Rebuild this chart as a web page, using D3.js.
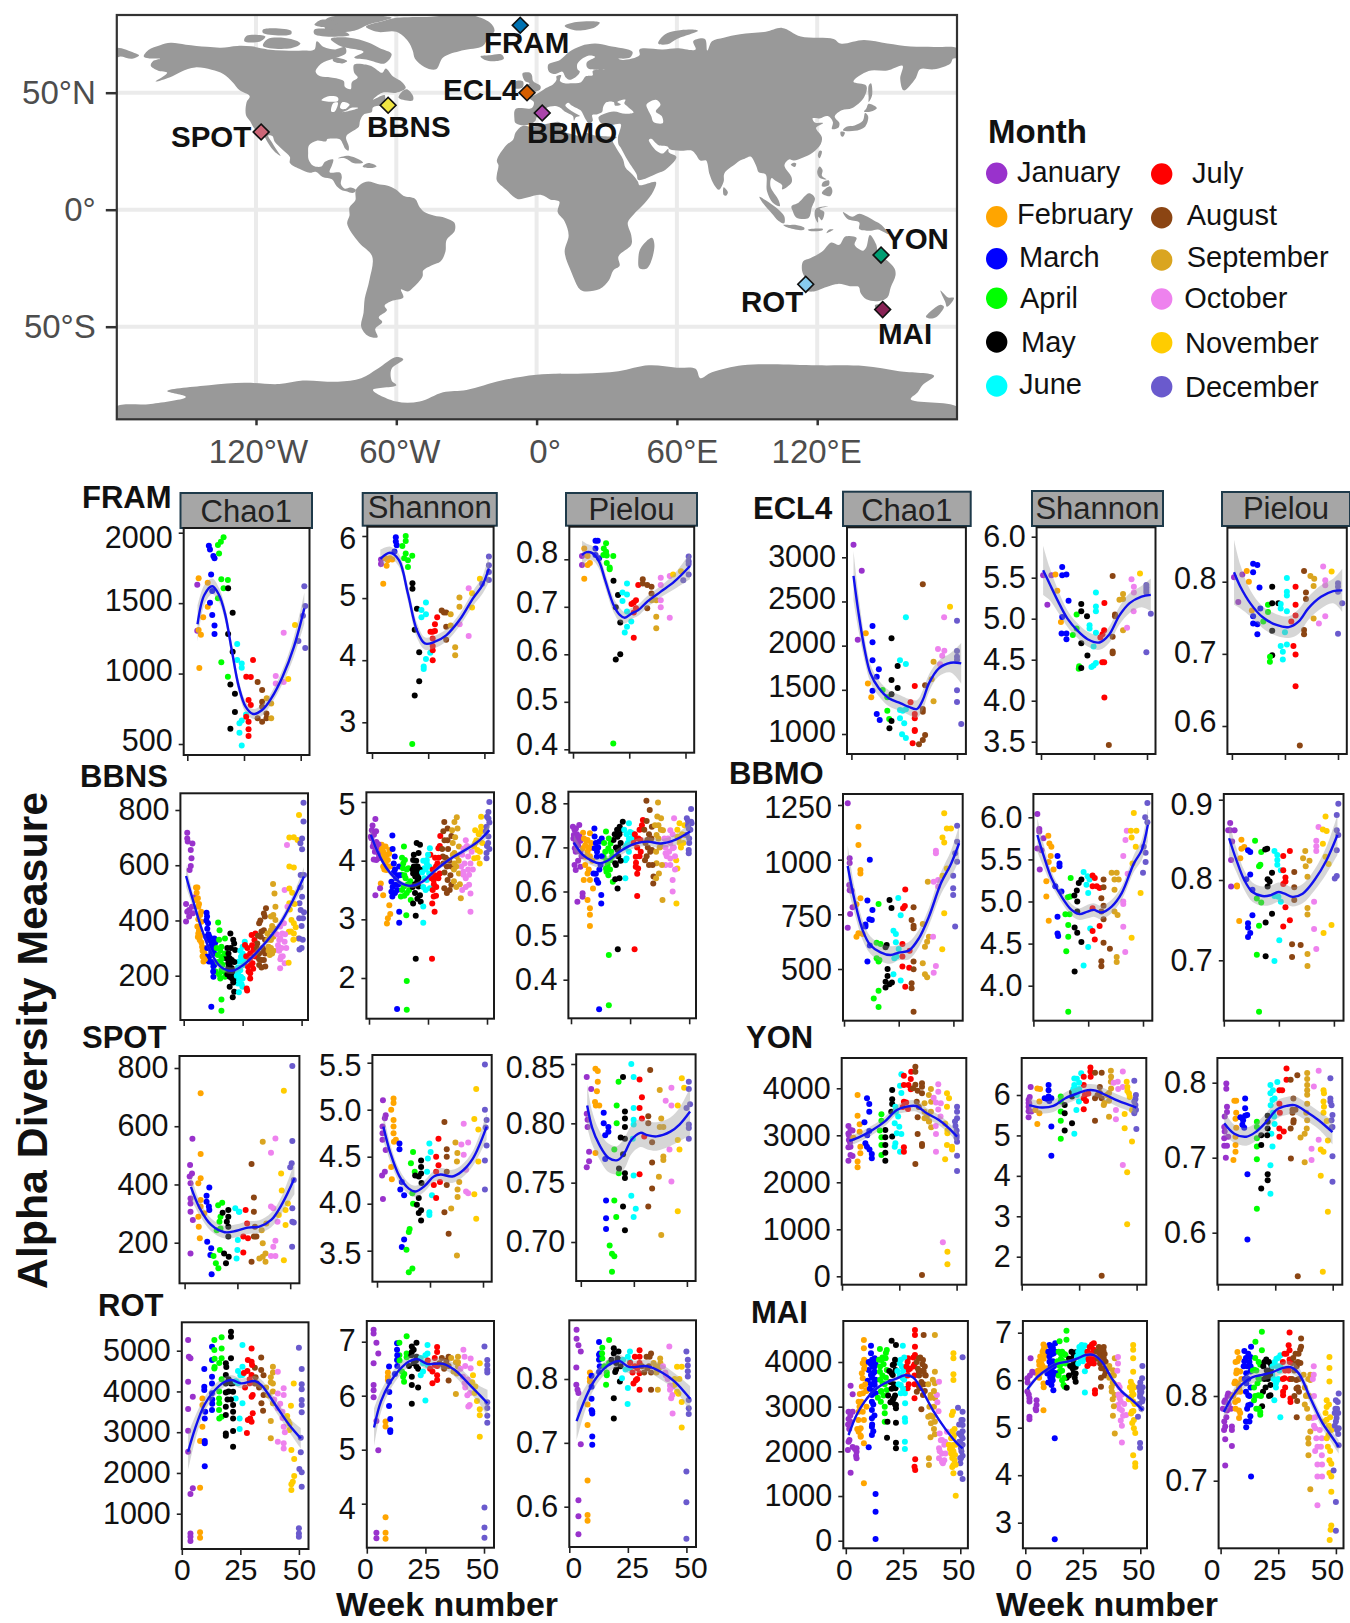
<!DOCTYPE html>
<html>
<head>
<meta charset="utf-8">
<script src="https://cdn.jsdelivr.net/npm/d3@7"></script>
<style>
  body { margin: 0; background: #fff; }
  text { font-family: "Liberation Sans", Arial, sans-serif; }
</style>
</head>
<body>
<svg id="chart" width="1350" height="1623"></svg>
<script>
// months
const months = ["January","February","March","April","May","June","July","August","September","October","November","December"];
const monthColors = ["#9932CC","#FFA500","#0000FF","#00FF00","#000000","#00FFFF","#FF0000","#8B4513","#DAA520","#EE82EE","#FFCC00","#6A5ACD"];
const monthEdges = [5,9.5,13.5,18,22,26,30.5,35,39,44.5,49];

// sampling sites on the map: name, lon, lat, colour
const sites = [
  ["FRAM",-7,78.8,"#0072B2"],["ECL4",-4.1,50,"#D55E00"],["BBMO",2.4,41.3,"#AA44AA"],["BBNS",-63.5,44.6,"#F0E442"],
  ["SPOT",-117.8,33.2,"#CC6677"],["YON",147.3,-19.4,"#009E73"],["ROT",115.1,-31.9,"#88CCEE"],["MAI",148,-42.7,"#882255"]
];
const lonTicks = [-120,-60,0,60,120];
const lonLabels = ["120°W","60°W","0°","60°E","120°E"];
const latTicks = [50,0,-50];
const latLabels = ["50°N","0°","50°S"];

// land outlines [lon,lat]
const land = [
 [[-168,65.5],[-166,68.3],[-161,70.3],[-156.5,71.3],[-150,70.5],[-141,69.6],[-135,69.2],[-128,70],[-122,69.8],[-115,68.5],[-108,68],[-100,68],[-95,68.5],[-94,72],[-91,69.5],[-86,68.5],[-82,69.5],[-81.5,67],[-87,64.5],[-92,62.5],[-94.5,59],[-92.5,57],[-88,56.5],[-82.5,55],[-82,52.5],[-79.5,51.5],[-79,54.5],[-76.5,56.5],[-78,58.5],[-78,62],[-73,62],[-70,61],[-66,58.5],[-64.5,60.3],[-61.5,57],[-57.5,54.5],[-56,52],[-60,50],[-66,50],[-70,47],[-65,49],[-64.5,47],[-61,46],[-64,44.5],[-66.5,44.5],[-70,43.7],[-70.5,41.7],[-74,40.6],[-75.5,38],[-76,35.5],[-78,34],[-81,32],[-81.5,30.5],[-80.3,27],[-80.5,25.2],[-81.8,26],[-82.8,28],[-84,30],[-86,30.4],[-89.5,30.2],[-90,29.2],[-94,29.5],[-97.3,27.5],[-97.7,24],[-97.5,21.5],[-95.5,18.8],[-92,18.5],[-90.5,20.5],[-87,21.5],[-87.5,19],[-88.5,16],[-84,15.8],[-83.3,14],[-83.7,11],[-82,9],[-79.7,9.5],[-77.3,8.5],[-78,7.3],[-80,7.3],[-81,7.8],[-83,8.2],[-85.5,10],[-87.5,13],[-91.5,14],[-94.5,16.2],[-97,15.8],[-101.5,17.5],[-105.5,20],[-105.5,22.5],[-108.5,25.5],[-112,29],[-113,31.5],[-114.8,31.7],[-113,28.5],[-110.5,24.5],[-109.5,23],[-112,24.8],[-114.5,28],[-116,30.5],[-117.2,32.7],[-120.5,34.5],[-122.5,37.8],[-124.3,40.5],[-124,46],[-122.7,48.5],[-127,51],[-130,54.5],[-134,58],[-139,59.8],[-146,60.8],[-152,59],[-157,56.5],[-163,54.8],[-158,58.5],[-162,59.5],[-165,61.5],[-164,63.5],[-161,64.5],[-166,64.7]],
 [[-80,73.5],[-72,71.5],[-67,69],[-62,66.5],[-65,62.5],[-72,64],[-78,65],[-74,67.5],[-84,70],[-88,73]],
 [[-117,70],[-105,69],[-101,71],[-105,73],[-115,73]],
 [[-125,72],[-118,72],[-116,74],[-124,74.3]],
 [[-90,76.5],[-78,76.5],[-72,79],[-62,82],[-72,83],[-90,81.5]],
 [[-95,75],[-80,74.5],[-82,76],[-95,77]],
 [[-117,75.5],[-105,75],[-105,76.5],[-117,77]],
 [[-95,79],[-88,78],[-85,80],[-92,81.2]],
 [[-87,65],[-81,63.5],[-83,62.5],[-87,63.5]],
 [[-59,47.8],[-53,46.7],[-52.8,48.5],[-55.5,51.5],[-57.5,50.5]],
 [[-85,22],[-80,23],[-74.2,20.2],[-78,19.8],[-82,22]],
 [[-74.4,18.5],[-72,20],[-68.4,18.6],[-71,17.8]],
 [[-73,78.2],[-68,76],[-60,76],[-55,72],[-53,68],[-52,64.5],[-48,61],[-43,60],[-40,65],[-32,68],[-23,70],[-21,73],[-18,76.5],[-20,80],[-30,83.5],[-45,82.5],[-60,82],[-66,80.5]],
 [[-24,65.5],[-22,64],[-18.5,63.4],[-14,64.5],[-15,66.3],[-20,66]],
 [[12,78.5],[17,76.6],[25,78],[27,80],[17,80.2]],
 [[52,71],[56,70.7],[60,73],[69,76.5],[65,77],[55,75]],
 [[-5.5,50.1],[1.3,51.2],[1.7,52.8],[-1.5,55],[-2,57.5],[-3,58.6],[-6,58.3],[-5,55],[-3,54],[-4.5,53],[-5,51.7]],
 [[-10,52],[-6,52.2],[-5.8,54.8],[-8,55.2],[-10,54]],
 [[-77.3,8.5],[-75.5,10.7],[-72,12],[-68,11],[-64,10.3],[-60,8.5],[-57,6],[-52,4.7],[-50,1],[-48,-1],[-44,-2.5],[-39,-3.5],[-35.2,-5.5],[-35,-9],[-38.5,-13],[-39,-18],[-41,-22],[-45,-23.8],[-48.5,-26],[-48.8,-28.5],[-53,-33.5],[-55,-35],[-58,-34],[-57,-37.5],[-62,-39],[-65,-41],[-64,-43],[-67.5,-46],[-66,-48],[-69,-51],[-68,-54.5],[-72,-54],[-75,-50],[-74,-44],[-73.5,-38],[-71.5,-30],[-70.3,-20],[-76,-14],[-81,-6],[-80,-2.5],[-80,1],[-77.5,4],[-77.5,7]],
 [[-6,35.8],[-1,35.3],[5,36.8],[10,37.3],[11,34],[15,32.3],[20,31.5],[20.5,32.8],[25,31.7],[32,31.2],[34.3,31],[32.6,29.5],[34,26.5],[37,21.5],[38,18],[41,15],[43.3,12],[44,10.5],[51,11.8],[50,8],[46,2.5],[41.5,-2],[39,-5.5],[40.5,-11],[40.5,-15],[35,-20],[35.5,-24],[32.8,-26],[31,-30],[27,-33.9],[20,-34.8],[18.3,-33.8],[15,-27],[12,-18],[13.7,-11],[12,-5],[9,-1],[9.7,3.5],[6,4.3],[2,6.3],[-4,5.2],[-8,4.5],[-13,8.5],[-17,12.5],[-17,15],[-16.3,19],[-17,21],[-13,27.5],[-10,30],[-9,33]],
 [[49.3,-12],[50.4,-15.5],[47.3,-25],[44,-25],[43.5,-21],[44.5,-16.5]],
 [[-9,37],[-9.5,39],[-9,43],[-2,43.5],[-1.2,46],[-4.5,48.4],[-1.5,48.7],[1.5,50.3],[4,52],[7,53.5],[8.5,55.5],[8.5,57],[10.5,57.5],[10,55],[12,54],[14.5,54],[19,54.5],[21,57],[24,57.5],[24,59.3],[29.5,60],[23,60],[21.5,61],[21.5,63],[25,65.3],[22,65.8],[17.5,62.5],[17.5,60],[18.5,59],[16.5,56.5],[14,55.5],[12.5,56.5],[11,59],[8,58],[5.3,59],[5,62],[10,64],[14,67.5],[19,70],[25,71],[31,70],[41,67.5],[40,65],[35,64.5],[37,64],[44,66],[44,68.5],[54,68.5],[60,69],[68,68.5],[67,72],[72,73],[73,68],[75,72],[80,73.5],[87,75],[98,76],[105,77.7],[113,74],[127,73],[130,71],[140,72.5],[150,71],[160,69.7],[170,69.5],[180,68.9],[180,65],[178,64.5],[177,62.5],[170,60],[164,60],[162,56],[157,51],[155.5,56],[156.5,61.5],[150,59.5],[142,59.3],[135.5,54.7],[141,53],[140,48],[135,43.5],[130.5,42.5],[127.5,39.8],[129.5,37],[129,35],[126.3,34.5],[126.7,37.5],[124.5,40],[121,39],[118,39],[119,37.3],[122.5,37],[119.5,35],[122,31],[121.5,28],[118,24.3],[114,22.3],[110,21],[108,21.5],[106,19],[109,14],[109,11.5],[105,8.7],[105,10.5],[102,12.5],[100.5,13.5],[100,10],[103.5,4],[104,1.5],[101,3],[98.5,8],[98,15],[95,16],[94,18.5],[91.5,22.7],[89,21.8],[87,21],[85,19.5],[80.3,15.5],[80,12],[78,8.5],[76,10.5],[74,15],[73,20],[72.5,21],[70,21],[68,23.7],[66.5,25.2],[61.5,25.2],[57,25.8],[56,27],[52,27.7],[49,30.3],[48,29.8],[50,26.5],[51.5,25],[54,24],[56.3,26],[56.5,24.5],[59.8,22.5],[55,17],[52,15.7],[45,12.8],[43.3,12.8],[42.8,15],[39,21],[36,26.5],[35,28],[34.8,31],[35.5,33.5],[36,36.5],[32,36.2],[30.5,36.5],[27.5,37],[26.5,39.5],[29,41],[33,42],[38,41],[41.5,41.5],[39,44],[37.5,45.5],[38,47],[34.5,46],[36,45],[33.5,44.5],[33,46],[30,46],[28.5,44],[28,41.7],[26,40.8],[23.8,40.5],[24,38],[22.5,36.7],[21,38.5],[19.5,41.5],[19,42.3],[15,44.5],[13.5,45.7],[12.3,44.5],[16,41.5],[18.5,40],[16.8,39.5],[16,38],[15.5,40],[12,42],[10.3,43.5],[8,44.3],[4,43.4],[3,42],[0,39.5],[-0.5,38],[-2,36.8],[-5.5,36]],
 [[-180,65],[-180,69],[-172,67],[-170,66],[-173,64.5],[-178,65.5]],
 [[131,34],[136,33.7],[140.5,35.5],[141.8,39.8],[140.5,41.3],[139.5,38],[136,36],[132.5,35.5]],
 [[140,42],[143,42],[145.5,43.5],[142,45.3],[141,43.3]],
 [[130,33.3],[131.8,33],[131,31.2],[130.2,31.5]],
 [[142,46],[143.5,49],[143,54],[142,53],[142,48]],
 [[120.3,23],[121,22],[122,25],[121,25.2]],
 [[108.7,19.2],[110.5,18.3],[111,19.8],[110,20.1]],
 [[120,16],[121,18.5],[122.3,17],[122,14.5],[124,13],[121,13.7]],
 [[122,7],[125.5,5.8],[126.5,8],[125.5,10],[123,8.5]],
 [[122,10],[125,10.5],[125,12.5],[122.5,11.8]],
 [[95.3,5.5],[98,4],[103.5,0],[106,-3],[105.8,-5.8],[103.5,-4.8],[100.5,-1.5],[97,2.5]],
 [[105.5,-6.5],[108.5,-6.5],[111,-6.5],[114.5,-7.7],[114.3,-8.6],[108,-7.8]],
 [[109,1.5],[112,3],[116.5,7],[119,5],[117.7,1],[116.3,-3.5],[111,-3.3],[109.5,-0.5]],
 [[119.5,0.5],[125,1.5],[121,0.4],[123,-1],[122,-4.5],[120.5,-3],[120.3,-5.5],[119,-3]],
 [[131,-1],[135,-3],[138,-1.7],[145,-5],[147.5,-6.5],[150.5,-10.5],[146,-8.5],[143,-9],[138,-8.3],[138,-5.5],[133,-4]],
 [[124,-10],[127,-8.5],[125,-8.6]],
 [[116,-8.5],[122.5,-8.2],[122,-8.9],[116.5,-9]],
 [[80,9.6],[81.8,7.5],[81,6],[80,6.3]],
 [[114,-22],[113.5,-26],[115,-30],[115,-34.3],[118,-35],[124,-33],[129,-31.7],[134,-32.7],[137.8,-33],[138.5,-35.5],[141,-38.3],[146.5,-39],[150,-37.5],[151.5,-33],[153.5,-28],[153,-25],[149,-21],[146,-19],[145.3,-15],[142.5,-10.8],[141,-16],[139.5,-17.5],[136,-15],[136.8,-12],[132,-11.5],[129.5,-15],[126,-14],[122,-18],[117,-20.7]],
 [[144.7,-40.8],[148.3,-40.8],[147.8,-43.3],[146,-43.5]],
 [[172.7,-34.5],[176,-37.5],[178.5,-37.7],[175.5,-41.5],[174.8,-39.5]],
 [[172.7,-40.6],[174.2,-41.5],[170.8,-46],[168,-46.5],[166.5,-45.8]],
 [[-180,-90],[-180,-84.4],[-165,-83],[-150,-80],[-158,-77.5],[-140,-75],[-125,-74],[-110,-74.5],[-100,-73],[-85,-73.5],[-75,-72],[-68,-68],[-60,-63],[-57,-64],[-62,-68],[-62,-73],[-60,-75],[-70,-77],[-60,-82],[-50,-82],[-40,-78],[-30,-77],[-15,-73],[0,-70.5],[20,-70],[35,-69],[48,-66.5],[60,-67.5],[68,-68],[70,-72],[75,-69.5],[88,-66.5],[100,-66],[120,-66.5],[140,-66.8],[155,-69],[170,-71],[165,-75],[163,-78],[160,-81],[180,-84.4],[180,-90]]
];
// inland water painted over the land
const water = [
 [[47,45],[51,47],[53,45],[51,42],[53.5,40],[54,37],[50,37.5],[49,40],[47.5,43]],
 [[-92,46.8],[-85,46.5],[-85,48],[-89,48.5]],
 [[-87.8,42],[-86.3,42],[-85,45.8],[-87,45.5]],
 [[-84,43.5],[-82,43],[-80,45],[-83,46]],
 [[-83,41.7],[-79,42.5],[-76.3,43.5],[-79.5,43.5],[-81,42.5]]
];

// points are [week, value]; fits are [week, value, half width of the band]
const framChao1 = [[4.4,1630],[4.4,1304],[5,1676],[9,1645],[5,1310],[6,1275],[7,1400],[9,1475],[5.3,1040],[9.5,1908],[10,1880],[11.5,1835],[12,1818],[10.5,1704],[10,1503],[11,1415],[12,1342],[12,1280],[11,1586],[13.5,1912],[14.8,1936],[16,1967],[14,1853],[15,1669],[17.9,1664],[16,1605],[13.5,1534],[15,1080],[17.9,978],[18,1605],[20,1432],[18,1280],[20,1155],[19,923],[21,857],[21,727],[19,609],[22,1210],[22,1096],[24,1072],[24,1042],[25.9,710],[24,666],[23,647],[23,580],[24,490],[26,694],[29,1096],[26,978],[28,975],[27,812],[28,777],[27,658],[27,604],[27,557],[31,940],[33,883],[33,800],[33,765],[31,682],[33,658],[34.9,682],[34.9,717],[35,824],[37,788],[37,682],[39,982],[39,930],[42.5,1290],[42.5,940],[47.5,1345],[44.5,961],[51.6,1620],[52,1480],[51,1411],[52,1181],[49,1231]];
const framChao1Fit = [[4.5,1350,130],[7.5,1558,70],[11,1620,55],[14,1558,50],[16.6,1427,50],[19.6,1167,50],[22.7,907,45],[25.7,765,40],[29,713,35],[33,741,40],[37,824,40],[42,978,50],[47,1190,70],[51.6,1463,110]];
const framShannon = [[4,5.62],[4,5.55],[5,5.23],[6,5.64],[7,5.61],[8,5.64],[9,5.62],[6.5,5.52],[10.6,5.98],[10.6,5.91],[11,5.85],[10,5.75],[15,6],[15,5.92],[13.5,5.84],[15,5.72],[17.9,5.68],[14.3,5.64],[16,5.61],[16,5.5],[17.9,2.65],[18,5.24],[18,5.15],[20,4.83],[19,4.49],[21,4.13],[21,3.66],[19,3.43],[24,4.93],[22,4.81],[24,4.74],[22,4.69],[25.9,4.12],[24,4.02],[23,3.9],[23,3.86],[29,4.69],[28,4.58],[26,4.46],[27,4.46],[28,4.47],[27,4.35],[27,4.23],[27,4.16],[27,4],[31,4.8],[32,4.77],[33,4.77],[33,4.54],[33,4.33],[35,4.74],[35,4.56],[38.9,5.01],[38.9,4.86],[37,4.21],[37,4.08],[43,5.16],[43,4.39],[39,4.58],[44.5,5.08],[44.5,4.85],[48,5.31],[49,5.23],[52,5.67],[52,5.53],[52,5.42],[52,5.29]];
const framShannonFit = [[3.7,5.63,.15],[8,5.73,.1],[12,5.61,.1],[16,5.07,.12],[20,4.48,.12],[23.5,4.27,.1],[27.5,4.29,.1],[33,4.4,.1],[39,4.65,.1],[45,5,.12],[49,5.2,.14],[52,5.48,.22]];
const framPielou = [[4,.807],[4,.788],[5,.759],[5,.823],[6.5,.807],[6.5,.788],[7.5,.792],[10,.839],[11,.839],[10,.823],[10,.809],[11.6,.802],[14.7,.834],[13.7,.823],[14.7,.816],[13.5,.809],[15,.808],[17.9,.807],[15,.792],[16.3,.783],[16.3,.779],[17.9,.412],[18,.755],[20,.725],[19,.699],[21,.667],[21,.6],[19,.589],[24,.749],[22,.73],[24,.726],[22,.712],[24,.69],[25.9,.669],[24,.658],[23,.646],[29,.746],[28,.714],[26,.706],[27,.709],[28,.697],[27,.688],[27,.635],[31,.758],[33,.746],[31,.749],[34.9,.742],[34.9,.728],[33,.697],[39,.761],[39,.746],[35,.714],[37,.714],[37,.679],[37,.655],[43,.765],[39,.714],[39,.699],[43,.677],[44.5,.768],[48,.775],[49,.756],[51.4,.806],[51.4,.796],[51.4,.79],[51.4,.768]];
const framPielouFit = [[4,.809,.03],[6,.815,.018],[8.6,.813,.015],[11.6,.795,.015],[14.3,.756,.015],[18,.704,.015],[20.8,.683,.015],[23,.677,.012],[26,.686,.012],[29,.693,.012],[33,.711,.012],[39,.732,.012],[45,.753,.016],[52,.786,.028]];

const ecl4Chao1 = [[1,3143],[4.9,2849],[3,2068],[7.8,1573],[9.4,1415],[6.8,2140],[10,2223],[10,2038],[10,1834],[10,1490],[12,1226],[13.4,1158],[13,1732],[12,1649],[14.8,1498],[17,1264],[17,1415],[17.9,1170],[19,2083],[19,1611],[19,1449],[21.9,1770],[21.9,1521],[19,1147],[18,1064],[25.8,2321],[23,1834],[25.8,1792],[23,1272],[24.3,1264],[25.8,1279],[23,1177],[25,1121],[24,996],[25.8,955],[30,1543],[28,1358],[30,1226],[30,1177],[30,1045],[30,1034],[29,894],[33.8,2694],[34.9,1551],[33.8,1283],[33.8,1253],[34.9,988],[33.8,932],[32,883],[38.9,1370],[38.9,1819],[38,1619],[41,1962],[44,1943],[43,1887],[42,1789],[43.9,2321],[46.7,2441],[50,2283],[50,1940],[50,1875],[50,1838],[50,1494],[50,1362],[52,1113]];
const ecl4Chao1Fit = [[1,2790,280],[3.4,2366,200],[6.3,1951,130],[9,1687,100],[13,1517,90],[17.7,1404,90],[23.4,1347,90],[27,1309,90],[31,1283,100],[33.8,1385,110],[36.7,1573,100],[41.4,1743,90],[47,1807,110],[52,1800,230]];
const ecl4Shannon = [[1,5.53],[4.9,5.53],[3,5.17],[6.8,5.54],[7.7,5.34],[9.4,4.96],[10,5.63],[10,5.53],[12,5.54],[13,5.22],[10,5.02],[9.7,4.82],[12,4.82],[12,4.75],[16.8,5.05],[15,4.8],[16.8,4.88],[17.8,4.39],[19,5.18],[19,5.09],[21.7,5.03],[19,4.7],[21.9,4.55],[17.99,4.42],[19,4.4],[25.9,5.32],[25.9,5.15],[25.9,5.09],[22.9,4.92],[22.9,4.88],[25.9,4.83],[24.8,4.66],[25.9,4.46],[24.8,4.43],[23.8,4.41],[29.9,5.19],[29.8,4.86],[29,4.81],[28,4.77],[28.9,4.47],[29.8,4.47],[29.9,4.04],[33.8,5.52],[34.9,5.05],[34.9,5.03],[33.8,4.78],[33.8,4.6],[33.8,4.58],[32,3.46],[37,5.23],[38.7,5.3],[38.7,5.24],[38.7,4.86],[42.7,5.48],[43.8,5.39],[43.8,5.32],[40.6,4.89],[43.7,5.09],[46.7,5.55],[49.7,5.41],[49.7,5.38],[49.7,5.35],[49.7,5.32],[49.7,4.59],[51.8,5.06]];
const ecl4ShannonFit = [[1,5.59,.3],[4,5.43,.2],[7.7,5.23,.14],[12.5,5,.1],[17,4.86,.09],[22,4.75,.09],[27.6,4.71,.09],[32,4.8,.1],[37,5.04,.11],[41.8,5.19,.12],[47.4,5.27,.13],[51.8,5.29,.2]];
const ecl4Pielou = [[1,.806],[4.9,.81],[3,.772],[7,.815],[8,.8],[9.4,.76],[10,.825],[12,.823],[10,.813],[13,.792],[10,.752],[10,.742],[12,.741],[12,.727],[13.4,.763],[14.8,.745],[17,.768],[17,.758],[17.9,.689],[19,.793],[19,.77],[21.9,.77],[19,.732],[23,.711],[19,.698],[17.95,.696],[25.9,.805],[25.9,.786],[25.9,.781],[23,.769],[23,.763],[25.9,.759],[25,.73],[25.9,.713],[24,.703],[24,.692],[30,.793],[30,.768],[30,.753],[28,.745],[29,.711],[30,.699],[30,.655],[34,.815],[34.9,.785],[34.9,.776],[34,.733],[34,.727],[32,.573],[37,.808],[38.8,.804],[38.5,.794],[38.5,.749],[43,.821],[44,.802],[44,.795],[44,.752],[41,.742],[47,.814],[50,.798],[50,.793],[50,.786],[52,.77],[50,.728]];
const ecl4PielouFit = [[1,.813,.045],[4,.793,.03],[8.7,.77,.018],[14.4,.751,.015],[21,.74,.015],[26.8,.737,.015],[31.5,.745,.017],[36,.763,.016],[42,.779,.016],[47.7,.787,.017],[52,.788,.03]];

const bbnsChao1 = [[1,460],[1.5,432],[1.5,718],[1.5,697],[1.7,686],[3.7,679],[3,655],[3.3,625],[3,597],[2.5,583],[1,396],[2.3,414],[2.3,438],[3.9,426],[3.5,450],[4.7,484],[5.2,519],[5.8,519],[5,474],[6.2,450],[7.4,432],[5.8,378],[6.2,353],[6.8,329],[7.8,305],[8.8,281],[8.4,251],[8.2,269],[6.2,404],[9.7,428],[9.9,414],[10.3,390],[9.5,341],[10.7,329],[11.7,311],[13,335],[13.4,320],[11.7,287],[9.7,269],[10.7,251],[12.6,233],[12.6,196],[11.7,88],[13,305],[14.6,393],[15.2,365],[17.5,335],[16,305],[16.5,269],[15.2,245],[16,221],[13.5,215],[17.5,196],[16,114],[16,73],[19.8,353],[21.4,317],[21.8,293],[18,263],[19.5,263],[18.9,245],[20.4,257],[18,218],[19.5,196],[21,209],[19.5,160],[21.4,142],[20.8,122],[21.8,184],[20.4,227],[25.9,323],[25,305],[24.3,269],[23.4,251],[23,209],[25.3,239],[23,172],[24.3,196],[23.4,140],[24.9,160],[26,311],[28.8,347],[30.4,353],[28.2,281],[29.6,293],[27.2,233],[29.2,245],[28.2,209],[28.2,190],[26.7,154],[26.9,146],[30,329],[34.9,444],[34.4,414],[32,390],[34,365],[32.7,341],[35.5,353],[31.2,317],[33,257],[31,269],[34.6,233],[32,239],[34,257],[37.9,532],[38.5,498],[38.9,450],[37,414],[38.9,402],[37,365],[38,341],[35,287],[36,305],[37,329],[42.8,510],[43.8,673],[40.9,378],[41.8,353],[42.8,323],[39.9,293],[41.3,269],[40.9,227],[42.8,245],[40.5,329],[48.9,782],[44.8,700],[46.7,701],[48.3,691],[46.7,592],[44.8,595],[44.8,516],[44.8,462],[45.7,402],[44.6,359],[46.7,353],[48.6,335],[44.5,247],[46.7,390],[50.8,826],[50.8,758],[50.2,697],[50.2,658],[51,565],[49.6,565],[50.2,486],[49.1,462],[49.6,438],[50.6,408],[49,408],[49.1,295],[49,335]];
const bbnsChao1More = [[5.5,500],[6,480],[6.5,460],[7,420],[6,340],[6.5,365],[7,345],[7.5,320],[8,290],[8.5,300],[9,260],[7.5,395],[8,270],[9.6,400],[10,370],[10.5,350],[11,340],[11.5,300],[12,320],[12.5,290],[13,280],[10,300],[11,270],[12,250],[12.5,215],[13,240],[14,300],[14.5,275],[15,330],[15.5,290],[16,260],[16.5,240],[17,215],[17.5,280],[14.5,250],[15,205],[15.5,190],[18.5,300],[19,280],[19.5,240],[20,215],[20.5,190],[21,175],[21.5,250],[19,230],[20,300],[21,330],[18.5,205],[22.5,200],[23,230],[23.5,185],[24,220],[24.5,170],[25,280],[25.5,255],[25,190],[24,290],[26.5,270],[27,300],[27.5,215],[28,260],[28.5,240],[29,310],[29.5,225],[30,270],[31,300],[31.5,345],[32,280],[32.5,400],[33,360],[33.5,300],[34,425],[34.5,330],[32,260],[33,230],[34,290],[34.5,280],[35.5,330],[36,290],[36.5,340],[37,300],[37.5,380],[38,290],[38.5,370],[37.5,280],[36.5,275],[38,420],[39.5,350],[40,310],[40.5,290],[41,335],[41.5,300],[42,270],[42.5,390],[43,350],[43.5,300],[44,450],[41,260],[45,440],[45.5,360],[46,500],[46.5,330],[47,460],[47.5,375],[49.5,520],[50,380],[50.5,330],[51,430],[50,300],[49.5,680]];
const bbnsChao1Fit = [[1,561,40],[3.9,474,25],[7.8,365,15],[11.7,281,12],[15.6,233,12],[20.4,218,12],[24.3,233,12],[29.2,269,12],[35,323,12],[41,390,15],[46.7,480,20],[51,559,35]];
const bbnsShannon = [[2.7,4.71],[1.2,4.52],[2.1,4.44],[3.1,4.32],[1.6,4.24],[4.1,4.12],[3.1,4.01],[5,3.61],[4.7,3.53],[2.7,3.41],[6,3.41],[.8,4.41],[4.1,4.04],[5.4,4.27],[7,4.24],[8.6,4.18],[6,4.07],[8,4.01],[6,3.9],[7.4,3.84],[9,3.9],[8.6,3.24],[9,3.09],[7.6,2.93],[8,3.02],[9.9,4.43],[10.9,4.07],[10.5,3.95],[12.8,3.9],[9.5,3.64],[11.3,3.59],[9.5,3.47],[9.9,3.39],[12.8,3.13],[12.8,2.94],[11.9,1.47],[14.8,4.24],[15.2,4.01],[14.4,3.87],[16.7,3.87],[13.8,3.76],[14.8,3.56],[13.5,3.39],[15.8,3.07],[16,1.95],[16,1.46],[17.7,3.33],[20.2,4.3],[21.6,4.27],[21,4.13],[18.7,4.01],[20.6,3.9],[18.7,3.78],[19.6,3.73],[21,3.56],[21.6,3.41],[18.7,3.27],[21.9,3.3],[19.8,3.06],[19.8,2.33],[25.8,4.21],[24.5,4.01],[23.5,3.87],[25.5,3.78],[24.5,3.67],[23,3.22],[23,2.94],[25.8,3.53],[30.2,4.42],[29.4,4.21],[26,4.1],[28.4,3.9],[30,3.78],[27.4,3.67],[29.4,3.7],[27.4,3.39],[28.4,3.4],[26.8,3.27],[27.8,3.13],[26.7,2.33],[31.9,4.66],[33.3,4.55],[34.9,4.42],[33.3,4.35],[31.3,4.07],[33.3,4.01],[34.9,3.9],[34.9,3.59],[33.3,3.67],[31.9,3.53],[34.2,3.5],[37.2,4.74],[36.2,4.66],[35.2,4.52],[38.1,4.24],[37.2,4.07],[36.2,3.95],[38.1,3.78],[38.9,3.36],[36.2,4.13],[41,4.35],[40.5,4.21],[42,4.07],[39.1,3.9],[40,3.81],[42.4,3.76],[42.4,3.59],[43,3.44],[43,3.13],[40,3.76],[47.5,4.75],[45,4.52],[47.5,4.58],[44.5,4.24],[45.9,4.18],[46.9,3.95],[44.6,4.04],[51,5],[50.6,4.83],[50.6,4.72],[49.8,4.58],[50.6,4.41],[49.8,4.13],[49.8,4.04]];
const bbnsShannonMore = [[1.5,4.6],[2,4.3],[2.5,4.15],[3,4.5],[3.5,4.2],[1,4.38],[2,4.02],[4,4.28],[5.5,4.2],[6,4.15],[6.5,4.05],[7,4],[7.5,4.1],[8,3.9],[8.5,4.12],[6.5,3.85],[7,3.95],[10,4.2],[10.5,3.8],[11,3.85],[11.5,3.7],[12,3.75],[12.5,3.6],[10,3.55],[11,3.45],[12,3.5],[13,3.75],[14,4.05],[14.5,3.95],[15,3.75],[15.5,3.7],[16,3.85],[16.5,3.6],[17,3.5],[17.5,3.65],[14,3.5],[15,3.4],[16,3.45],[18.5,3.85],[19,3.9],[19.5,3.6],[20,3.85],[20.5,3.75],[21,3.7],[18.5,3.55],[19.5,3.45],[20.5,3.35],[19,4.1],[20,4],[21.5,3.85],[20,3.8],[20.5,3.65],[22.5,3.8],[23,4],[23.5,3.7],[24,3.85],[24.5,3.95],[25,4.1],[25.5,3.9],[23,3.55],[24,3.5],[26.5,3.7],[27,3.85],[27.5,3.6],[28,3.75],[28.5,3.55],[29,3.95],[29.5,4.05],[30,4.25],[28,4.05],[27,3.5],[31,4.2],[31.5,4.5],[32,4.35],[32.5,4.05],[33,3.9],[33.5,4.2],[34,4],[34.5,3.75],[32,3.8],[33,3.45],[31.5,3.95],[35.5,4.1],[36,3.85],[36.5,4.4],[37,3.9],[37.5,4.55],[38,4],[38.5,3.6],[36,3.65],[37,3.55],[35.5,4.3],[39.5,4.1],[40,4.2],[40.5,3.95],[41,3.7],[41.5,4.25],[42,3.85],[43,3.95],[43.5,4.15],[44,3.85],[41,3.55],[39.5,3.5],[45,4.3],[45.5,4.35],[46,4.05],[46.5,4.45],[47,4.15],[47.5,4.5],[48,4.3],[49.5,4.5],[50,4.25],[50.5,4.3],[51,4.65],[51,4.2],[50,4.75]];
const bbnsShannonFit = [[.8,4.44,.09],[4,4.12,.06],[8,3.84,.05],[12.8,3.64,.04],[17.7,3.57,.04],[22.6,3.64,.04],[27.4,3.81,.04],[31.3,3.94,.04],[36,4.07,.04],[42,4.21,.05],[46.9,4.35,.06],[51,4.52,.1]];
const bbnsPielou = [[.8,.747],[2.1,.743],[3.5,.751],[1.2,.728],[2.7,.721],[1.6,.698],[4,.69],[4,.656],[2,.649],[4.9,.596],[2.7,.577],[4.9,.588],[5.1,.733],[8,.732],[7,.717],[5,.698],[8,.698],[6,.679],[7,.641],[5.4,.626],[8,.626],[9.3,.607],[8,.562],[8,.547],[8,.522],[7,.581],[9.9,.743],[11.9,.713],[9.9,.698],[10.9,.679],[9.5,.641],[10.9,.626],[12.8,.592],[12.8,.573],[11.9,.333],[14.8,.736],[16.7,.709],[15.8,.698],[13.8,.679],[16.7,.671],[14.8,.652],[15.8,.637],[17.7,.622],[16,.456],[16,.342],[21.9,.758],[20.6,.747],[19.7,.724],[18,.717],[19.7,.694],[18.7,.664],[18.7,.628],[19.7,.607],[19.8,.469],[24.5,.755],[25.9,.732],[23.5,.705],[23,.671],[23,.63],[30.4,.762],[27.4,.721],[29.4,.717],[27.4,.679],[28.4,.652],[27.4,.656],[28,.59],[26.9,.469],[31.9,.806],[33.3,.785],[34.2,.747],[32.3,.717],[34.2,.694],[34.9,.634],[34.8,.618],[31.3,.671],[36.8,.802],[38.1,.766],[38.9,.739],[36.2,.728],[38.1,.702],[36.2,.664],[37.2,.641],[38.7,.581],[43.6,.766],[42,.739],[43,.698],[40,.687],[42,.675],[43,.626],[43,.6],[42,.66],[40,.66],[45.9,.755],[45,.724],[47.9,.728],[44.5,.671],[45,.652],[44.6,.573],[50.8,.787],[49,.766],[50.8,.758],[49.8,.743],[49,.728],[49.8,.694],[49.8,.687]];
const bbnsPielouMore = [[1,.72],[1.5,.74],[2,.71],[2.5,.73],[3,.705],[3.5,.725],[4,.715],[4.5,.68],[2,.69],[3,.67],[1.5,.66],[5.5,.72],[6,.705],[6.5,.715],[7,.69],[7.5,.7],[8,.68],[8.5,.71],[6,.66],[7.5,.65],[9,.67],[10,.725],[10.5,.71],[11,.69],[11.5,.7],[12,.65],[12.5,.66],[10.5,.64],[11.5,.62],[13,.72],[13,.68],[14,.71],[14.5,.69],[15,.67],[15.5,.66],[16,.72],[16.5,.65],[17,.69],[17.5,.68],[15,.645],[18.5,.73],[19,.7],[19.5,.74],[20,.68],[20.5,.73],[21,.71],[21.5,.74],[19,.66],[20,.7],[21,.67],[20.5,.63],[22.5,.74],[23,.7],[23.5,.73],[24,.71],[24.5,.69],[25,.735],[25.5,.72],[23.5,.675],[24.5,.72],[26.5,.71],[27,.73],[27.5,.665],[28,.7],[28.5,.72],[29,.74],[29.5,.69],[30,.75],[28,.64],[29,.68],[31,.74],[31.5,.71],[32,.76],[32.5,.7],[33,.73],[33.5,.69],[34,.72],[34.5,.66],[33,.66],[32,.68],[35.5,.75],[36,.69],[36.5,.77],[37,.72],[37.5,.7],[38,.74],[38.5,.66],[36,.63],[37,.75],[39.5,.72],[40,.7],[40.5,.68],[41,.72],[41.5,.69],[42,.71],[43,.73],[43.5,.7],[44,.68],[44,.65],[45,.74],[45.5,.72],[46,.71],[46.5,.7],[47,.73],[47.5,.71],[48,.75],[49.5,.75],[50,.72],[50.5,.74],[51,.755],[50,.71],[49.5,.76]];
const bbnsPielouFit = [[1.2,.711,.018],[5,.683,.012],[9,.669,.01],[11.9,.664,.01],[15.8,.671,.01],[19.7,.687,.01],[23.5,.7,.01],[27.4,.709,.01],[32.3,.713,.01],[38.1,.709,.01],[44,.717,.012],[50.4,.736,.02]];

const bbmoChao1 = [[1.7,1258],[2.6,1006],[2.6,985],[2.4,884],[2.6,860],[3.5,858],[3.9,782],[2.8,752],[1.7,689],[6.6,1151],[6.6,1067],[7.5,953],[7.5,937],[7.5,823],[5.7,648],[6.6,663],[8.5,660],[5.7,796],[11.8,1000],[10.7,813],[13,770],[11.6,727],[12.7,724],[9.8,704],[9.8,694],[11.8,608],[10.7,534],[15.8,797],[14.9,620],[16.7,614],[14.9,549],[15.8,534],[16.2,541],[15.8,400],[13.6,365],[15.8,326],[20.8,816],[21.7,779],[19.5,610],[19,599],[19.9,500],[19.9,468],[19,442],[21.9,438],[20.8,430],[19,415],[24.8,825],[25.9,746],[22.6,675],[23.7,660],[23.7,622],[25,592],[23,549],[22.6,476],[25.9,447],[24,557],[28,864],[27.8,788],[27,778],[26.7,511],[26.7,557],[26.7,614],[29.8,506],[30,584],[28,419],[31.8,782],[30.9,724],[31.8,698],[31.8,686],[31.8,534],[31.8,499],[30.9,435],[30.9,412],[31.8,305],[36,706],[38.3,899],[38.8,648],[38,625],[37,602],[37,476],[38,462],[36,526],[42,1041],[42,1029],[41,899],[43,907],[43,877],[40.7,648],[42,514],[41,483],[45.8,1212],[47,1143],[48.9,1143],[45,1101],[45.8,1079],[47,960],[45,927],[45.8,755],[44.9,590],[51.7,1155],[51.7,1082],[50.8,1029],[51.7,991],[49.9,927],[49.9,869],[49.9,838],[50.8,694]];
const bbmoChao1Fit = [[1.7,971,95],[4.8,816,60],[8.5,678,45],[12,610,40],[16.7,576,40],[21.3,564,40],[25,575,35],[29.6,584,40],[34.2,640,40],[38.8,739,40],[44.3,892,50],[49,983,60],[52.6,1075,80]];
const bbmoShannon = [[1.8,6.04],[2.7,5.86],[2.7,5.83],[1.8,5.63],[3.7,5.61],[2.9,5.38],[4.6,5.75],[6.8,5.78],[7.3,5.69],[8.2,5.65],[7.9,5.54],[5.9,5.24],[5.9,5.06],[7,4.77],[7,5.47],[9.2,5.38],[11,5.54],[11.9,5.45],[11.9,5.42],[10,5.18],[12.8,5.12],[11,4.82],[11,4.62],[11.3,4.59],[17,5.28],[16.8,5.06],[15.7,5.05],[14.6,4.85],[16.5,4.85],[15.9,4.72],[15.9,4.58],[15,4.41],[15.9,3.69],[21.9,5.26],[20.7,5.22],[19.8,5.13],[18.7,5.07],[20,5],[20,4.88],[18.8,4.69],[20,4.63],[21.9,4.52],[18.8,4.17],[22.9,5.35],[24.7,5.3],[24.2,5.2],[25,5.1],[25.9,4.68],[25,4.46],[22.9,4.24],[25.6,5.26],[27,5.31],[28,5.28],[27,5.18],[28.9,5.18],[30.2,5.16],[27,4.92],[30.2,4.71],[27,4.65],[28,4.55],[32,5.26],[32,5.17],[31,5.04],[32,4.95],[31,4.88],[32,4.79],[32,4.51],[31,4.29],[31,4.23],[34.9,4.44],[35.7,5.34],[38,5.34],[37,5.26],[38.9,5.26],[37,5.14],[37,4.88],[38.4,4.84],[38,4.34],[38,4.28],[42.6,5.84],[42,5.73],[41,5.54],[41,5],[41,4.97],[41,4.7],[41.9,4.4],[43,5.33],[44.5,5.84],[47,5.84],[45.8,6.05],[44.8,5.76],[46.7,5.65],[45.2,5.45],[48.9,5.1],[44.8,4.57],[52,6.17],[51,6],[52,5.94],[50.3,5.65],[51.2,5.58],[51.2,5.47],[50,5.34]];
const bbmoShannonFit = [[1.8,5.79,.2],[4.6,5.55,.14],[8.2,5.28,.08],[12.8,5.06,.07],[17.4,4.9,.07],[21,4.85,.07],[24.7,4.88,.08],[27.5,4.9,.08],[31,4.87,.08],[35.7,4.94,.08],[40.3,5.1,.08],[45.8,5.45,.1],[49.4,5.61,.12],[52.2,5.91,.2]];
const bbmoPielou = [[2.9,.871],[2.9,.862],[4.9,.862],[3.8,.848],[3.3,.825],[3.3,.792],[2,.862],[8,.85],[8,.839],[7.5,.827],[9.3,.841],[6,.793],[7,.749],[6,.792],[11,.837],[12,.835],[12,.807],[10.2,.801],[13,.788],[13,.756],[11,.746],[11,.741],[12,.734],[11,.729],[14.2,.849],[17,.835],[16.6,.819],[16,.817],[15,.777],[17,.772],[16,.743],[15,.707],[16,.636],[19.7,.839],[18.8,.838],[21.9,.809],[19.9,.801],[20.8,.798],[19.9,.792],[21.9,.758],[19,.747],[19,.705],[23,.836],[24.3,.831],[24.3,.825],[24.3,.819],[25.9,.812],[23,.78],[24.8,.779],[25.9,.773],[25.2,.725],[23,.699],[30,.836],[27,.83],[27,.812],[28,.803],[28,.798],[27,.795],[28,.766],[27,.742],[30,.75],[32,.81],[32,.791],[32,.775],[31,.72],[34.9,.719],[31,.704],[37,.836],[36,.827],[37.2,.817],[38.9,.824],[38,.804],[38,.765],[38,.757],[38,.708],[38,.693],[43,.866],[42,.849],[42,.842],[42,.836],[41,.773],[41,.739],[42,.714],[46.2,.879],[45,.863],[46.7,.861],[45,.845],[46.2,.829],[47.6,.82],[45.3,.734],[48.9,.744],[52,.895],[51.3,.881],[51.3,.862],[52,.856],[51.3,.837],[51.3,.805],[50.4,.802]];
const bbmoPielouFit = [[2.4,.852,.022],[5.7,.825,.015],[9.3,.8,.012],[13,.785,.012],[17.5,.78,.012],[21.2,.781,.012],[24.8,.785,.012],[27.6,.783,.012],[31.2,.779,.012],[35.8,.783,.012],[41.2,.8,.013],[46.7,.825,.017],[51.6,.856,.025]];

const spotChao1 = [[2.6,467],[3.5,438],[2.4,427],[2.8,404],[3.7,557],[2.8,352],[2.8,335],[2.8,306],[3.9,278],[2.8,163],[7.6,713],[7.6,505],[7.6,421],[6.5,404],[7.6,347],[6.5,289],[7.6,324],[6.7,255],[7.2,215],[9.3,301],[11.7,390],[10.4,361],[10.4,341],[11.7,312],[10.7,203],[12.6,181],[12.2,158],[12.8,92],[11.5,324],[17.8,337],[15.9,329],[17,289],[16.5,272],[17,249],[15.2,243],[16.7,175],[13.7,154],[14.8,129],[16,112],[20.7,312],[18,303],[20.7,289],[20.7,255],[20.7,221],[18.7,163],[20.9,152],[19.6,129],[20,272],[24,318],[25.7,306],[25.9,306],[25.2,209],[25,175],[24.6,146],[28.9,312],[29.6,266],[27.8,221],[30,215],[27.8,166],[31.7,470],[32.8,355],[32.8,306],[34,221],[31.7,135],[32.8,221],[33.3,255],[37,547],[38.7,266],[35.4,146],[37,152],[38.3,163],[37,198],[38.3,135],[36.5,243],[43,558],[40.9,509],[40.9,324],[42,318],[43,207],[42,186],[43,154],[40.9,154],[44,272],[47,722],[45.7,438],[46,379],[47,140],[47.8,312],[48.9,335],[47.8,261],[44.6,295],[51,807],[51,549],[50.7,473],[50,459],[51.7,415],[51,318],[51,272],[51.7,269],[50.9,186]];
const spotChao1Fit = [[3,392,40],[7.2,318,25],[12.6,261,22],[19,236,22],[24.6,241,22],[30,252,22],[35.4,255,22],[41,278,25],[46.3,335,30],[52,421,55]];
const spotShannon = [[2.8,5.1],[4.1,4.94],[3.7,4.91],[2.6,4.82],[2.6,4.75],[2.6,4.68],[4.1,4.57],[3.7,4.34],[2.4,4.3],[2.8,4.05],[7.8,5.12],[7.8,5.07],[6.7,5],[7.8,4.89],[7.8,4.82],[7.8,4.75],[8,4.66],[6.7,4.39],[7,4.26],[8.9,4.68],[10.6,4.64],[10.6,4.58],[11.7,4.23],[11,4.15],[12.8,4.09],[12.8,3.62],[11.7,3.54],[17,4.55],[16,4.43],[17.8,4.34],[16.7,4.11],[17,4],[15.4,3.73],[15,3.7],[13.9,3.51],[16.7,3.31],[15,3.27],[20.8,4.46],[20.8,4.39],[20.8,4.32],[18,4.3],[19.7,4.29],[21,4.22],[19.7,4.06],[18.8,3.99],[20.8,3.93],[19.7,3.9],[20.8,3.82],[24.7,4.64],[25.3,4.55],[24,4.48],[23.6,4.34],[25.9,4.09],[24.7,3.91],[24.7,3.88],[29,4.69],[27.9,4.5],[29,4.41],[27.9,4.34],[29.7,4.23],[27.9,4.06],[26.8,4.2],[31.8,4.87],[32.9,4.58],[32.9,4.5],[32.9,4.34],[32.9,4.2],[31.8,3.91],[33.8,3.68],[37,4.65],[35,3.95],[37.9,4.54],[37.7,4.45],[38,4.15],[38,4.07],[37.7,3.45],[38.8,4.23],[40.9,4.85],[39.8,4.63],[43,4.65],[40.9,4.52],[42,4.36],[42,4.13],[43,4.11],[46.8,5.22],[45.9,4.9],[47.8,4.79],[47.8,4.45],[45.9,4.1],[46.8,3.84],[50.9,5.48],[50.9,5],[51.7,4.89],[51.3,4.81],[51.7,4.62],[50.9,4.46],[50.9,4.15]];
const spotShannonFit = [[3,4.82,.15],[6.3,4.54,.09],[10.6,4.29,.07],[15,4.16,.06],[18.2,4.13,.06],[22.5,4.19,.06],[26.8,4.29,.06],[30,4.31,.07],[35.5,4.29,.07],[39.8,4.34,.07],[45.2,4.48,.08],[51.7,4.82,.14]];
const spotPielou = [[2.8,.839],[4.9,.829],[2.8,.808],[3.2,.803],[3.2,.797],[3.9,.776],[3.9,.768],[2.8,.763],[6.9,.846],[8,.844],[8,.835],[7.6,.827],[6.7,.818],[7.1,.815],[8.7,.815],[6.9,.775],[10.8,.809],[10.8,.8],[13,.797],[13,.793],[11.5,.79],[11.5,.77],[11.9,.735],[11.9,.72],[11.9,.711],[17.8,.835],[16.9,.815],[16.9,.8],[15.8,.778],[17.9,.758],[15.8,.735],[16.7,.721],[13.6,.697],[14.7,.69],[15.8,.688],[14.7,.675],[19.9,.839],[20.8,.81],[20.8,.804],[20.8,.797],[18.8,.788],[20.8,.787],[19.9,.774],[18,.762],[20.8,.758],[20.8,.754],[19.9,.73],[20.8,.71],[23.8,.85],[24.9,.839],[24.9,.813],[24.9,.803],[24.9,.799],[24.5,.787],[24.9,.756],[23.8,.739],[25.9,.728],[24.9,.721],[27.7,.837],[28.8,.822],[27.7,.813],[28.8,.804],[29.9,.789],[27.7,.757],[32.7,.845],[31.8,.806],[31.8,.8],[33.6,.784],[33.6,.767],[33.6,.745],[31.8,.73],[37.2,.828],[37.9,.804],[37.2,.797],[38.9,.797],[38.9,.772],[38.9,.769],[36.8,.755],[37.9,.706],[42.7,.83],[40,.819],[42.7,.815],[41.8,.778],[42.7,.751],[47.6,.838],[48.7,.83],[45.7,.815],[45.7,.786],[46.5,.778],[45.7,.726],[50.9,.835],[50.9,.829],[51.5,.816],[49.8,.813],[50.9,.799],[50.9,.796],[50.9,.787]];
const spotPielouFit = [[3,.815,.018],[5.4,.796,.014],[8.7,.782,.012],[13,.771,.012],[17.3,.769,.012],[20.6,.775,.013],[23.8,.786,.012],[28.1,.792,.012],[31.4,.79,.012],[35.7,.789,.012],[42.2,.793,.012],[46.5,.799,.014],[51.5,.81,.02]];

const yonChao1 = [[2.8,3200],[2.8,3040],[2.8,2745],[3.7,3113],[3.7,2759],[4.6,2560],[2.8,2461],[4.6,3100],[3.7,2582],[6.8,3858],[6.8,3418],[7.7,3234],[6.8,2440],[6.8,2319],[8,2759],[8,2617],[7.7,3078],[10.9,3787],[11.9,3667],[11.9,3503],[9.8,3276],[11.9,3092],[10.2,2830],[10.9,2759],[13,2603],[13,2511],[17.2,3447],[17.2,3312],[17.2,2957],[17.2,2794],[17.2,2582],[21.9,3964],[21.9,3766],[21.9,3667],[18.9,3113],[18.9,2957],[18.9,2794],[18.9,2631],[18.9,2461],[21.9,2972],[25.9,4297],[25.3,4056],[25.9,3901],[23.3,3610],[23,3255],[25,3184],[23.9,3042],[25.9,3028],[23.3,2830],[23,2759],[25.3,2652],[30.2,4354],[27,4269],[27,4071],[29,4071],[30,3979],[27,3716],[28.8,3560],[27,2745],[27,2652],[32,4461],[32,4354],[32,4078],[34.9,4106],[34.9,4035],[34.9,3894],[32.6,3716],[33,3383],[33,3028],[34.9,2816],[34.9,2773],[32,2390],[34.9,28],[38.8,3986],[37.9,3858],[38.9,3716],[36,3681],[38.8,3503],[37.9,3291],[36,3362],[38.9,3170],[42,4085],[42,3929],[43.1,3681],[40.9,3199],[41,3028],[41,2652],[44,723],[45.8,3894],[46.7,3787],[45.8,3610],[46,3042],[45.8,2794],[48,2759],[45,2489],[46,525],[46,255],[50.2,3610],[50.2,3503],[50.2,3362],[49.3,3291],[50.2,2865],[50.2,2567],[50.2,2241]];
const yonChao1More = [[3,2900],[3,3000],[3.5,2850],[5,2950],[11,3000],[12,2700],[16.5,3100],[21.5,3500],[23.5,3500],[24.5,3400],[26.5,3600],[28,3700],[30,4200],[31,4000],[33,3950],[33.5,3600],[36,3500],[37,3400],[38,3300],[40,3800],[41,3700],[42,3550],[43,3400],[45,3250],[46,3100],[48,2700],[49.5,3200],[50,3100],[50,3000],[50,2950]];
const yonChao1Fit = [[3.2,2879,110],[8,2972,100],[13.3,3113,100],[18.6,3291,100],[23.9,3539,100],[28.2,3610,120],[32.3,3624,120],[37,3468,110],[42.3,3326,110],[46.7,3149,110],[50.2,2972,120]];
const yonShannon = [[3.9,6.2],[3,5.88],[3,5.71],[4.2,5.59],[3,5.45],[3.3,5.79],[6.8,6.16],[8,6.15],[6.8,5.28],[7.7,5.84],[7.7,5.55],[6,5.63],[11.7,6.25],[11.7,6.12],[10,5.92],[11.7,5.96],[12.9,5.92],[12.9,5.22],[12.9,4.5],[17,5.96],[17,5.84],[17,5.59],[17,5.36],[17,4.92],[21.9,6.07],[21.9,5.96],[18.7,5.75],[18.7,5.55],[21.9,5.3],[18.7,5.12],[25.9,6.54],[22.9,6.41],[22.9,6.25],[23.8,6.14],[24.9,5.84],[23.8,5.63],[22.9,5.04],[29.9,6.68],[27,6.45],[27,6.25],[27,5.92],[27,5.65],[29,6.04],[29.9,6.58],[31.9,6.55],[34.8,6.55],[31.9,5.92],[34.8,5.92],[34,6.2],[31.9,5.36],[34.8,1.53],[38.8,6.6],[38.8,6.33],[38.9,6.16],[38,5.86],[35.7,5.75],[38,5.46],[44,6.58],[41.8,6.33],[41,5.63],[41,5.4],[44,4.27],[45.7,6.33],[46.7,6.04],[44.8,5.53],[44.8,5.18],[48,5.63],[48,4.85],[45.9,4.09],[45.9,2.8],[49,6.35],[49.7,6],[49,5.84],[49.7,5.63],[49,5.55],[49.9,5.16]];
const yonShannonMore = [[3,5.6],[3,5.8],[3.5,5.95],[11,5.9],[12,5.85],[22.5,6.15],[23,6.05],[24,6],[24,6.4],[25,6.3],[25,6.15],[27.5,6],[28,5.85],[30,6.45],[33,6],[34,6.05],[36,5.8],[37,6],[38,6.05],[38.9,6.45],[40,6.3],[42,6.15],[44,6.2],[46,6.1],[46,6.2],[47,5.95],[49.5,5.75],[49.5,5.9],[49.5,5.65]];
const yonShannonFit = [[3.3,5.75,.17],[8.6,5.69,.15],[13.8,5.73,.15],[19,5.92,.15],[24.3,6.04,.15],[28.7,6.12,.15],[32.2,6.11,.15],[36.6,6,.15],[41.8,5.86,.15],[47,5.75,.15],[49.9,5.69,.17]];
const yonPielou = [[3.7,.799],[3.7,.792],[4,.768],[4,.761],[2.8,.741],[2.8,.726],[2.8,.716],[4.5,.728],[4,.716],[7.2,.776],[8,.776],[7.7,.752],[7.7,.728],[7.7,.717],[7.7,.708],[6.8,.697],[11.9,.779],[11.9,.766],[11.9,.756],[9.8,.754],[12.8,.757],[10.7,.744],[12.9,.678],[12.9,.591],[17,.748],[17,.741],[17,.726],[17,.715],[17,.698],[17,.632],[21.7,.756],[21.7,.748],[18.9,.73],[18.9,.717],[21.7,.739],[21.7,.678],[21.7,.67],[18.9,.659],[25.9,.801],[22.9,.797],[22.9,.786],[24.7,.779],[23.8,.777],[24.7,.745],[23.3,.732],[23.8,.715],[22.9,.69],[22.9,.652],[29.9,.819],[29.9,.804],[26.8,.79],[26.8,.772],[26.8,.739],[28.7,.735],[26.8,.728],[32.9,.779],[34.6,.81],[31.7,.804],[32.5,.764],[33.8,.764],[32.9,.747],[31.7,.739],[31.8,.699],[34.8,.542],[38.9,.813],[38.9,.797],[38.9,.784],[38.9,.772],[36,.727],[37.8,.732],[38.7,.739],[37.8,.694],[43.9,.816],[41.8,.795],[40.8,.712],[43.9,.724],[40.8,.697],[46.2,.786],[46.2,.768],[47.4,.749],[44.8,.711],[46,.708],[44.8,.676],[47.9,.628],[45.7,.548],[47.9,.723],[49,.806],[49,.779],[49,.775],[49.9,.757],[49.9,.741],[49.9,.702],[49.9,.668]];
const yonPielouMore = [[3,.735],[3.5,.7],[3,.755],[8,.74],[8,.76],[11,.75],[11.5,.74],[21.5,.73],[23,.77],[24,.76],[24,.79],[24.5,.755],[27,.76],[28,.79],[32.5,.76],[33,.75],[38.9,.79],[38.9,.805],[38.5,.76],[38.9,.75],[46,.76],[46,.775],[46,.79],[49.5,.77],[49.5,.75],[49.5,.74]];
const yonPielouFit = [[2.8,.746,.016],[7.2,.732,.012],[12.4,.728,.012],[16.8,.735,.012],[21.2,.748,.012],[25.6,.764,.012],[29.9,.769,.012],[33.4,.77,.012],[38.7,.761,.012],[43.9,.75,.012],[49.9,.734,.016]];

const rotChao1 = [[2.7,5262],[3,4853],[3.7,4812],[2.7,4239],[2.7,3568],[2.7,3037],[2.7,2521],[4.7,3871],[4.7,1622],[3.7,1483],[3.7,517],[3.7,436],[3.7,329],[8.8,3830],[8.8,3667],[8.8,3135],[7.8,2783],[7.8,1638],[7.8,542],[7.8,411],[9.6,4550],[9.6,4117],[9.6,4035],[9.8,3339],[9.8,2783],[9.8,2726],[9.8,2162],[12.9,5098],[12.9,4771],[12.9,4362],[12.9,4198],[12.9,3953],[12.9,3544],[13.9,5262],[17,5327],[13.9,5016],[17,5057],[17,4812],[13.9,4566],[15.9,3830],[15.9,3544],[16,3339],[17,3380],[16,3708],[21,5466],[21,5344],[21,4812],[18.8,4689],[18.8,4403],[18.8,4198],[18.8,3977],[21.9,3994],[21.9,3667],[18.8,3626],[21.9,3503],[18.8,3421],[21.9,3339],[18.8,2971],[18.8,2914],[21.9,3029],[21.9,2644],[21,4198],[25.9,5139],[25.9,4607],[25.9,4403],[23,3830],[25.9,3708],[24.7,3339],[24.7,3078],[23.3,4239],[29.8,5057],[28.2,4771],[29.8,4730],[29.8,4403],[29.8,3871],[30.3,3912],[30.3,3462],[29.2,3339],[28.2,3298],[29.8,3258],[27.8,2979],[33.9,4836],[33.9,4526],[31.2,4583],[34.9,3912],[34,3708],[34.7,3528],[31.2,4198],[38.9,4607],[38.9,4468],[38,3274],[38,2849],[38.9,4198],[38.9,3708],[38,4223],[41,4485],[43.5,4076],[43.5,3912],[43.5,3135],[41,2767],[43.5,2726],[43.5,2603],[41,3585],[47.8,4198],[46.6,3650],[45.5,3274],[45.9,3053],[46.8,2562],[48,2342],[48,1924],[47.4,1785],[46.8,1720],[46.8,1581],[50,5074],[51.2,4550],[51.2,4174],[51.2,4051],[51.2,3789],[51.2,3667],[51.2,3487],[50.8,2865],[50.8,2505],[50.2,2096],[51.2,2015],[51.2,1663],[50,640],[50,517],[50,436]];
const rotChao1More = [[14,4800],[14,4600],[16,4700],[17,4300],[16,4000],[19,4600],[20,4000],[20,4300],[21,3800],[19.5,3800],[21.9,4200],[23,4250],[24,4500],[24,4200],[25,4400],[26.5,4450],[27,4100],[28,4500],[29,4300],[29,4200],[30,4650],[31.5,4350],[32,4200],[33,4100],[34.9,4400],[36,4100],[37,3900],[38,4350],[38.9,4000],[39.5,3800],[41,3950],[42,3700],[43,3500],[43,3350],[44,3000],[45,3400],[46,3200],[13,3700],[13,3800],[10,3500]];
const rotChao1Fit = [[2.7,2521,450],[5.7,3094,300],[9.6,3667,180],[13.5,3994,150],[18.4,4239,120],[21.4,4280,120],[25.3,4198,120],[31.2,4256,120],[34,4157,130],[40,3667,150],[45.9,3176,170],[50.8,2849,250]];
const rotShannon = [[2.9,7.22],[2.9,7.15],[4.1,6.98],[4.9,6.78],[2.9,6.6],[2.9,6.2],[2.9,6.1],[2.9,5.97],[4.1,5.53],[4.9,4.99],[4.1,3.46],[4.1,3.36],[8,3.75],[8,3.46],[8,3.35],[9,6.43],[9,6.35],[9,6.29],[8,5.52],[8,5.43],[9.5,6.54],[9.5,6.26],[9.6,6.07],[9.5,5.81],[10,5.57],[10,5.36],[10,5.33],[12.9,6.97],[12.9,6.85],[12.9,6.66],[13.9,6.98],[17,7.1],[13.9,6.75],[17,6.78],[17,6.71],[15.9,6.26],[15.5,6.35],[21.2,6.98],[19.2,6.91],[19.2,6.81],[21.2,6.72],[19.2,6.35],[19.2,6.2],[21.9,6.15],[19.2,5.85],[21.2,6.54],[25.9,6.94],[25.9,6.78],[23,6.38],[25,5.91],[25.9,6.57],[30,6.9],[30,6.81],[28,6.23],[30,6.38],[30,6.29],[29,6.57],[34.9,6.72],[34.9,6.28],[33.9,6.6],[32.5,6.57],[38.9,6.72],[38,6.03],[38.9,6.54],[38.4,6.41],[41.2,6.85],[41.7,6.72],[44.3,6.69],[41.7,6.23],[44.3,6.51],[42.9,6.01],[43.9,5.83],[43.3,5.8],[48.2,6.6],[45.3,6.38],[48.2,5.75],[48.2,5.64],[48.2,5.24],[46.3,6.17],[50.2,6.91],[51.4,6.66],[51.4,6.57],[51.4,6.48],[51.4,6.43],[51.4,5.88],[51.4,5.77],[51.4,5.63],[51.4,5.5],[50.2,3.93],[50.2,3.56],[50.2,3.37]];
const rotShannonMore = [[13,6.75],[13,6.55],[14,6.65],[15,6.45],[16,6.4],[18,6.55],[19,6.75],[20,6.85],[20,6.6],[21,6.65],[21.9,6.5],[23,6.7],[24,6.6],[24,6.45],[25,6.75],[26,6.65],[27,6.5],[28,6.45],[29,6.7],[30,6.55],[31,6.6],[32,6.7],[33,6.5],[34,6.65],[34.9,6.55],[36,6.7],[37,6.45],[38,6.62],[38.9,6.62],[40,6.5],[41,6.35],[42,6.55],[42,6.15],[43,6.3],[44,6.05],[45,6.25],[46,6.05],[47,5.9],[12,6.4]];
const rotShannonFit = [[3.1,5.41,.35],[6,5.89,.2],[10,6.25,.14],[13.9,6.48,.12],[17.8,6.63,.1],[21.4,6.68,.1],[25.7,6.59,.1],[32.5,6.59,.1],[37.4,6.48,.12],[43.3,6.23,.14],[48.2,6.01,.17],[51.5,5.86,.25]];
const rotPielou = [[3.1,.877],[3.1,.863],[3.9,.853],[4.9,.843],[3,.818],[3,.791],[3.5,.783],[3.9,.778],[4.9,.698],[3.9,.61],[3.9,.585],[3.9,.557],[8.8,.81],[8.8,.801],[8.8,.796],[7.8,.76],[7.8,.728],[7.8,.641],[7.8,.587],[7.8,.578],[9.5,.805],[9.5,.788],[9.5,.769],[9.5,.751],[9.8,.749],[9.8,.746],[9.8,.71],[9.8,.697],[12.7,.858],[12.7,.838],[12.7,.83],[12.7,.811],[17,.861],[14.1,.849],[14.1,.832],[17,.825],[15.7,.791],[16,.806],[19,.848],[21,.843],[19,.77],[19,.738],[21.6,.796],[19.6,.811],[20.6,.832],[25.9,.843],[25.9,.827],[22.5,.801],[25,.786],[24.9,.761],[25.9,.817],[30,.845],[30,.835],[30,.809],[30,.783],[28.4,.798],[27.4,.793],[29,.817],[34.9,.84],[34.3,.835],[34.9,.783],[33.3,.817],[38.8,.832],[37.8,.783],[38.8,.819],[37.2,.81],[42.7,.851],[41.2,.806],[44.1,.788],[43.5,.77],[44.1,.746],[43,.783],[46,.819],[48,.819],[45,.791],[48,.764],[48,.724],[46.6,.777],[50,.843],[50.6,.83],[50.6,.821],[50.6,.812],[50.6,.804],[51,.767],[51,.754],[51,.745],[50,.655],[50,.607],[50,.55]];
const rotPielouMore = [[13,.84],[13,.82],[14,.84],[15,.82],[16,.81],[18,.83],[19,.84],[20,.825],[20,.815],[21,.83],[21.9,.82],[23,.83],[24,.815],[25,.835],[26,.825],[27,.81],[28,.82],[28,.835],[29,.8],[30,.825],[31,.82],[32,.81],[33,.835],[34,.82],[34.9,.81],[36,.825],[37,.82],[38,.815],[38.9,.825],[40,.82],[41,.81],[42,.8],[43,.79],[44,.775],[45,.8],[46,.78],[47,.8]];
const rotPielouFit = [[3.1,.734,.03],[6.9,.77,.018],[10.8,.798,.012],[15.7,.819,.01],[19.6,.827,.01],[21.6,.828,.01],[25.5,.819,.01],[33.3,.82,.01],[39.2,.811,.012],[45,.796,.013],[51.6,.769,.02]];

const maiChao1 = [[2.1,3470],[3,3276],[1.2,2888],[3,2888],[1.2,2724],[2,2664],[1.6,2254],[1.2,2217],[.9,2030],[2.1,1522],[4.7,2067],[4.7,1843],[4.7,1992],[7.9,4493],[7.9,4306],[7.4,3970],[8.2,3933],[7.4,3634],[6.1,3284],[5.6,3112],[6.8,3112],[7.4,2888],[7.9,2702],[6.5,2515],[5.6,2440],[7.9,2179],[7.9,1284],[6.5,2328],[9,3373],[5.6,2888],[11,4366],[11,4194],[12.6,4082],[11.8,3896],[12.6,3784],[10,3821],[11,3709],[9.6,3582],[12.6,3485],[11.4,3261],[11.4,3112],[11.4,2925],[11.4,2739],[11.4,2552],[11.4,2366],[10,2090],[13,1045],[13,649],[13,37],[14.9,4291],[17.9,4269],[17.4,4082],[15.6,4045],[14.9,3784],[17.9,3821],[16.1,3523],[15.3,3336],[17.9,3373],[15.3,3112],[17,2851],[17,2664],[20,4478],[21.9,4381],[20.5,3933],[21.7,3821],[20.5,3709],[21.7,3411],[20.9,3187],[21.9,3037],[21.9,2963],[18.2,2664],[21.9,2642],[18,2306],[21.9,2194],[21.9,2067],[24.9,4366],[23.5,3970],[25.9,3858],[24.9,3634],[24,3485],[25.8,3299],[25.9,3075],[25.8,2739],[25.9,2664],[25.8,2217],[25.8,2052],[30.2,4717],[30.2,4604],[30.2,4343],[30.2,4157],[27.2,4082],[27.2,3821],[27,3411],[30,3187],[30.3,1821],[30,1657],[30.3,1582],[34,4604],[31.9,4082],[33.7,4045],[31.9,3784],[34.6,3709],[32.3,3411],[31,3336],[33.7,3261],[33,2940],[36,2776],[36.3,1843],[36.3,1694],[38.9,4604],[38.9,3784],[38.9,3523],[37,3261],[38.9,3187],[38,2776],[37.2,2627],[37,2314],[38.9,2664],[38.9,2381],[40.7,3560],[39.8,3261],[42,2254],[43.3,2217],[40.7,2067],[40.7,1843],[42,1769],[44.2,2440],[42.4,1731],[47,4194],[47,4082],[47,3724],[47,3597],[46.8,2888],[46.3,2814],[46,2291],[46.8,2142],[47.7,1918],[47,1694],[47,1507],[48,1008],[46.3,2067],[47.4,2366],[51,4105],[49,2978],[51,2888],[51,2702],[51,2590],[50.3,2366],[51,2291],[49.5,2217],[50.3,2067],[50.3,1843],[50,1731],[50,1507],[51,1381]];
const maiChao1More = [[1,2600],[2,2800],[1.5,2500],[3,2100],[4,2050],[4.5,1900],[5,2500],[5.5,2700],[6,3000],[6.5,2350],[6.5,3100],[7,3450],[7,3750],[7.5,3300],[8,3850],[8,4050],[8.5,3500],[9,3350],[9,3000],[10,4000],[10.5,3400],[11,3950],[11,3500],[11.5,4050],[11.5,3650],[12,3750],[12,4000],[12,3350],[12,3050],[12.5,3900],[12.5,3550],[12.5,2800],[13,3950],[13,3600],[13,3300],[11.5,2600],[12,2450],[14,3200],[14.5,4050],[15,3600],[15,3900],[15.5,3350],[16,3700],[16,4100],[16.5,3950],[16.5,3250],[17,3500],[17,3000],[17.5,4200],[17.5,3650],[18.5,3250],[19,3800],[19.5,3550],[20,3750],[20,3400],[20.5,3150],[21,3950],[21,3500],[21.5,4050],[21.5,3250],[21.5,3050],[19.5,3100],[22.5,3800],[23,3500],[23.5,3700],[24,4050],[24,3300],[24.5,3900],[25,3400],[25,3800],[25.5,4100],[25.5,3600],[26.5,3900],[27,3700],[27,4000],[28,3850],[29.5,3900],[30,3700],[30,3500],[30,3950],[29.5,4100],[27.5,3500],[31,4000],[31.5,3850],[32,3700],[32,3450],[32.5,4100],[33,3800],[33,3550],[33.5,3950],[34,3800],[34,3500],[34.5,3350],[34.5,3900],[34.9,3700],[36,3500],[37,3200],[38,3600],[38.5,3000],[36.5,3000],[38.5,2500],[37,2800],[38.5,3350],[40,3100],[41,2400],[41,2000],[41.5,2250],[42,1950],[43,2150],[43.5,1950],[40.5,2900],[43,1800],[45,2150],[45.5,2050],[46,1950],[46.5,1850],[46.5,1650],[47,2300],[47,2000],[47.5,1800],[47.5,2500],[46,2100],[48,1700],[48,2150],[46.5,2450],[49.5,2400],[50,2200],[50.5,2000],[51,2450],[51,1900],[50,1850],[50.5,2700],[49.5,2600],[51,2150],[50.5,2350]];
const maiChao1Fit = [[1.2,2366,70],[4.7,2813,50],[8.2,3112,40],[12.6,3373,40],[17,3523,40],[22.3,3634,40],[25.8,3702,40],[29.3,3657,40],[32.8,3411,40],[38,2925,40],[43.3,2515,40],[48.6,2179,50],[51,2067,70]];
const maiShannon = [[2.3,6.46],[.9,6.04],[3.9,6.16],[.9,5.76],[1.8,5.62],[1.8,5.55],[4.9,5.58],[4.9,5.48],[1.8,5.23],[1.8,5.18],[4.7,5.37],[7.9,6.75],[8.75,6.53],[7,6.46],[6.1,6.32],[7,6.21],[5.6,6.11],[7.9,5.37],[7.9,5.93],[10.5,6.74],[11.4,6.67],[13,6.78],[12.2,6.56],[10.5,6.39],[11.9,6.28],[9.6,6.14],[11.9,6],[11.4,5.9],[12.2,5.79],[12.8,2.65],[12.8,4.78],[10.9,6.07],[17.9,7.04],[14.9,6.82],[17.9,6.85],[15.4,6.56],[17.5,6.53],[15.8,6.35],[14.9,6.18],[16.6,5.9],[17.1,5.86],[20.1,6.6],[21.9,6.59],[21,6.39],[21.9,6.28],[21.9,6.14],[18,6.05],[21.9,5.97],[18,5.84],[24.5,6.74],[25.9,6.73],[25.4,6.6],[25.9,6.46],[25.9,5.74],[25.9,6.19],[23.6,6.53],[29.8,6.78],[29.8,6.64],[28,6.49],[29.8,6.35],[27.6,6.42],[30.3,5.79],[30.3,5.72],[34.1,6.7],[32.4,6.56],[34.1,6.46],[34.9,6.39],[32.9,6.05],[32.9,5.86],[31,6.46],[34.9,6.18],[38.9,6.46],[38.1,6.21],[37.6,5.76],[38.9,5.69],[38.5,5.93],[38.1,5.25],[38.9,4.88],[40.3,6.49],[40.3,6.35],[41,5.62],[40.3,5.48],[42,5.37],[42,5.04],[42,4.69],[43.8,5.27],[46.9,6.74],[46.9,6.64],[46.9,6.46],[45.9,5.97],[46.4,5.76],[46.9,5.55],[46.4,5.34],[47.2,5.16],[47.2,4.99],[47.8,4.89],[46.9,4.42],[47.8,4.25],[47.8,4.18],[46.9,6.18],[50.9,6.3],[50.8,6.04],[49.9,5.86],[49.9,5.76],[49.9,5.65],[50.8,5.55],[49,5.23],[49.9,4.68],[49.9,4.58]];
const maiShannonMore = [[1,5.95],[2,6.1],[3,6.18],[1.5,5.7],[4.5,5.4],[5.5,6.2],[6,6.4],[6.5,6.5],[6.5,6.15],[7,6.35],[7.5,6.6],[7.5,6.3],[8,6.65],[8,6.45],[8.5,6.7],[9,6.25],[6,6.05],[8,5.85],[10,6.6],[10,6.15],[10.5,6.5],[11,6.72],[11,6.3],[11,6.05],[11.5,6.55],[11.5,6.2],[12,6.68],[12,6.4],[12,6.1],[12.5,6.6],[12.5,6.3],[13,6.6],[13,6.15],[10,5.95],[14,6.4],[14.5,6.6],[15,6.3],[15.5,6.45],[16,6.6],[16,6.2],[16.5,6.4],[17,6.55],[17,6.05],[17.5,6.35],[14.5,6.1],[16,6],[19,6.45],[19.5,6.3],[20,6.45],[20.5,6.25],[21,6.55],[21,6.15],[21.5,6.35],[21.5,6.05],[19,6.1],[22.5,6.5],[23,6.6],[23.5,6.7],[24,6.45],[24,6.7],[24.5,6.55],[25,6.68],[25,6.4],[25.5,6.6],[23,6.35],[27,6.6],[27.5,6.45],[28,6.7],[28,6.35],[28.5,6.55],[29,6.75],[29,6.4],[29.5,6.6],[30,6.45],[27,6.3],[31,6.6],[31.5,6.45],[32,6.7],[32.5,6.35],[33,6.6],[33.5,6.5],[34,6.62],[34,6.25],[34.5,6.55],[33,6.25],[34.5,6.1],[36,6.25],[36.5,6.05],[37,6.1],[37.5,5.85],[38,5.95],[38.5,6.1],[36.5,6.3],[38,5.6],[38.5,5.45],[40,6.2],[40.5,5.7],[41,5.85],[41,5.4],[41.5,5.55],[42,5.7],[42.5,5.25],[43,5.5],[40.5,5.9],[41.5,5.15],[45,5.6],[45.5,5.85],[46,5.3],[46.5,5.1],[47,5.7],[47,5.35],[47.5,5.85],[47.5,5.5],[46,5.65],[46.5,5.9],[49.5,5.5],[50,5.7],[50.5,5.4],[51,5.6],[51,5.85],[50,5.95],[50.5,5.75],[49.5,5.85]];
const maiShannonFit = [[.9,5.81,.07],[5.3,6.07,.05],[9.6,6.23,.05],[14,6.35,.04],[19.3,6.4,.04],[22.8,6.46,.04],[26.3,6.53,.04],[29.8,6.53,.04],[33.3,6.39,.04],[37.6,6.04,.05],[42,5.76,.05],[47.2,5.55,.05],[51,5.37,.07]];
const maiPielou = [[3.3,.803],[1.6,.793],[2.8,.783],[1.6,.77],[2,.764],[2,.749],[2,.718],[4.9,.764],[4.9,.76],[4.9,.741],[4.9,.801],[7.3,.852],[7.3,.841],[6.8,.827],[6.3,.817],[8.5,.805],[6.3,.793],[8,.783],[8,.774],[8.5,.829],[10.3,.853],[13.2,.858],[10.3,.841],[12.9,.846],[11.1,.827],[12.9,.829],[11.1,.815],[12,.801],[12,.789],[12.9,.776],[11.1,.763],[13.2,.705],[12.5,.77],[17.9,.876],[15.1,.864],[17.9,.854],[17.2,.837],[14.6,.831],[16.4,.821],[16.4,.801],[15.5,.785],[17.2,.781],[17.2,.778],[19.8,.843],[21.9,.837],[21.8,.831],[19.8,.823],[21.6,.813],[18.4,.805],[21.6,.801],[18,.788],[25.9,.848],[24.2,.844],[22.4,.825],[25.9,.835],[23.3,.795],[25.9,.775],[24.7,.819],[29.9,.875],[29.9,.854],[29.9,.843],[27.7,.85],[27.1,.805],[27.1,.801],[30.3,.797],[30.3,.793],[27.7,.821],[34.9,.868],[34.9,.858],[33.8,.85],[31.1,.839],[34.6,.839],[32.9,.819],[32.9,.809],[33,.775],[33.2,.794],[38.9,.825],[38.9,.819],[37.2,.801],[38.1,.774],[38.9,.758],[38.1,.744],[38.1,.73],[38.9,.69],[40.4,.835],[40.4,.825],[39.8,.774],[41,.762],[43.9,.75],[43.9,.73],[44,.719],[42,.719],[42,.705],[42,.671],[47.2,.846],[47.2,.833],[47.2,.817],[46,.787],[46,.772],[46.8,.754],[47.2,.724],[48,.72],[47.2,.709],[48,.687],[48,.647],[47.3,.63],[47.7,.642],[51.2,.803],[50.8,.793],[49.8,.785],[50.3,.774],[51.2,.762],[51.2,.742],[49,.712],[50,.675],[50,.641]];
const maiPielouMore = [[1,.785],[2,.795],[3,.8],[3.5,.79],[1.5,.76],[2.5,.775],[4.5,.785],[5.5,.8],[6,.815],[6.5,.84],[7,.83],[7.5,.815],[7.5,.795],[8,.845],[8,.81],[8.5,.78],[9,.82],[6.5,.785],[7,.805],[10,.835],[10.5,.82],[11,.845],[11,.805],[11.5,.835],[11.5,.785],[12,.82],[12,.85],[12.5,.8],[12.5,.84],[13,.81],[13,.835],[13,.79],[11,.77],[14,.83],[14.5,.81],[15,.845],[15,.8],[15.5,.83],[16,.815],[16.5,.84],[16.5,.785],[17,.82],[17.5,.8],[14.5,.795],[18.5,.835],[19,.82],[19.5,.81],[20,.83],[20.5,.82],[21,.8],[21,.84],[21.5,.825],[19,.84],[22.5,.835],[23,.82],[23.5,.84],[24,.815],[24.5,.835],[25,.845],[25,.82],[25.5,.83],[24,.81],[27,.84],[27,.82],[28,.83],[28,.81],[28.5,.85],[29.5,.83],[29.5,.86],[30,.84],[30,.82],[31,.82],[31.5,.845],[32,.83],[32.5,.85],[33,.835],[33.5,.84],[34,.82],[34,.805],[34.5,.855],[33.5,.81],[32,.8],[36,.825],[36.5,.81],[37,.8],[37.5,.785],[38,.82],[38.5,.8],[36.5,.79],[38,.75],[38.5,.775],[40,.82],[40.5,.765],[41,.775],[41.5,.75],[42,.74],[43,.76],[43.5,.74],[40.5,.8],[44,.705],[41,.735],[45,.77],[45.5,.78],[46,.75],[46.5,.74],[47,.79],[47,.765],[47.5,.735],[47.5,.775],[46,.795],[48,.76],[48,.705],[49.5,.78],[50,.795],[50.5,.785],[51,.78],[51,.755],[50,.77],[50.5,.76],[49.5,.765]];
const maiPielouFit = [[1.4,.781,.008],[5,.799,.007],[9.4,.814,.007],[13.7,.822,.007],[18,.825,.007],[22.4,.828,.007],[26.8,.833,.007],[30.3,.834,.007],[33.8,.827,.007],[39,.797,.007],[44.2,.768,.007],[47.7,.754,.007],[51.2,.74,.008]];

// y axis tick values for each panel
const framChao1Ticks = [2000,1500,1000,500], framShannonTicks = [6,5,4,3], framPielouTicks = [.8,.7,.6,.5,.4];
const ecl4Chao1Ticks = [3000,2500,2000,1500,1000], ecl4ShannonTicks = [6,5.5,5,4.5,4,3.5], ecl4PielouTicks = [.8,.7,.6];
const bbnsChao1Ticks = [800,600,400,200], bbnsShannonTicks = [5,4,3,2], bbnsPielouTicks = [.8,.7,.6,.5,.4];
const bbmoChao1Ticks = [1250,1000,750,500], bbmoShannonTicks = [6,5.5,5,4.5,4], bbmoPielouTicks = [.9,.8,.7];
const spotChao1Ticks = [800,600,400,200], spotShannonTicks = [5.5,5,4.5,4,3.5], spotPielouTicks = [.85,.8,.75,.7];
const yonChao1Ticks = [4000,3000,2000,1000,0], yonShannonTicks = [6,5,4,3,2], yonPielouTicks = [.8,.7,.6];
const rotChao1Ticks = [5000,4000,3000,2000,1000], rotShannonTicks = [7,6,5,4], rotPielouTicks = [.8,.7,.6];
const maiChao1Ticks = [4000,3000,2000,1000,0], maiShannonTicks = [7,6,5,4,3], maiPielouTicks = [.8,.7];
const weekTicks = [0,25,50];

// panel table: box = [left,right,top,bottom], yr = pixel of first/last tick, xr = pixel of week 0/50
// labDy / labDx nudge the tick labels, they were moved by hand in the figure
const panels = [
  {pts:framChao1,fit:framChao1Fit,ticks:framChao1Ticks,fmt:"d",box:[183.7,309.5,528,755],yr:[532.7,744],xr:[187.3,300.7],labDy:[5,-2,-3,-3]},
  {pts:framShannon,fit:framShannonFit,ticks:framShannonTicks,fmt:"d",box:[367.3,493.6,526.7,753],yr:[536,722.3],xr:[372,484.4],labDy:[3,-2,-4,-1]},
  {pts:framPielou,fit:framPielouFit,ticks:framPielouTicks,fmt:".1f",box:[569.3,694.2,526.7,752.7],yr:[559.3,749.3],xr:[573,685.5],labDy:[-7,-4,-4,-2,-5]},
  {pts:ecl4Chao1,fit:ecl4Chao1Fit,ticks:ecl4Chao1Ticks,fmt:"d",box:[847,965.9,527.3,754],yr:[557.3,734],xr:[851.4,957],labDy:[-1,-3,-3,-3,-2]},
  {pts:ecl4Shannon,fit:ecl4ShannonFit,ticks:ecl4ShannonTicks,fmt:".1f",box:[1036.6,1155.5,527.3,754],yr:[536.7,741.7],xr:[1041,1147]},
  {pts:ecl4Pielou,fit:ecl4PielouFit,ticks:ecl4PielouTicks,fmt:".1f",box:[1227.4,1346.8,527.7,754],yr:[581.7,726],xr:[1231.9,1338],labDy:[-3,-1,-4]},
  {pts:bbnsChao1.concat(bbnsChao1More),fit:bbnsChao1Fit,ticks:bbnsChao1Ticks,fmt:"d",box:[180.4,308,793.3,1020],yr:[810,975.7],xr:[183.7,301.6]},
  {pts:bbnsShannon.concat(bbnsShannonMore),fit:bbnsShannonFit,ticks:bbnsShannonTicks,fmt:"d",box:[366.4,494,792.3,1018.7],yr:[802,978],xr:[369,487],labDy:[3,0,-1,0]},
  {pts:bbnsPielou.concat(bbnsPielouMore),fit:bbnsPielouFit,ticks:bbnsPielouTicks,fmt:".1f",box:[568.4,696,791.7,1018.3],yr:[803.3,979.7],xr:[571,689.2]},
  {pts:bbmoChao1,fit:bbmoChao1Fit,ticks:bbmoChao1Ticks,fmt:"d",box:[843,962.7,794,1020.7],yr:[805,969],xr:[844,953.4],labDy:[3,3,2,1]},
  {pts:bbmoShannon,fit:bbmoShannonFit,ticks:bbmoShannonTicks,fmt:".1f",box:[1033.4,1152.3,794,1020.7],yr:[817.3,985.7],xr:[1033.4,1143]},
  {pts:bbmoPielou,fit:bbmoPielouFit,ticks:bbmoPielouTicks,fmt:".1f",box:[1223.8,1343.5,794,1020.7],yr:[799.7,960.3],xr:[1223.8,1333.9],labDy:[5,-1,0]},
  {pts:spotChao1,fit:spotChao1Fit,ticks:spotChao1Ticks,fmt:"d",box:[179.5,299.4,1056,1283.3],yr:[1068,1242.7],xr:[184.6,290.2]},
  {pts:spotShannon,fit:spotShannonFit,ticks:spotShannonTicks,fmt:".1f",box:[372.4,491.7,1055,1281.7],yr:[1062.7,1250.7],xr:[377,483],labDy:[3,1,0,-1,3]},
  {pts:spotPielou,fit:spotPielouFit,ticks:spotPielouTicks,fmt:".2f",box:[576.2,695.6,1054.3,1281],yr:[1064,1242],xr:[580.8,686.9],labDy:[4,0,0,0]},
  {pts:yonChao1.concat(yonChao1More),fit:yonChao1Fit,ticks:yonChao1Ticks,fmt:"d",box:[841.7,966.3,1058,1284.7],yr:[1088.3,1276.3],xr:[842,956.6]},
  {pts:yonShannon.concat(yonShannonMore),fit:yonShannonFit,ticks:yonShannonTicks,fmt:"d",box:[1021.7,1146.3,1058,1284.7],yr:[1095,1256.7],xr:[1021.7,1136.6]},
  {pts:yonPielou.concat(yonPielouMore),fit:yonPielouFit,ticks:yonPielouTicks,fmt:".1f",box:[1217.4,1342.3,1058,1284.7],yr:[1082.7,1232.7],xr:[1217.8,1332.7]},
  {pts:rotChao1.concat(rotChao1More),fit:rotChao1Fit,ticks:rotChao1Ticks,fmt:"d",box:[181.8,308.5,1322.3,1549],yr:[1350.7,1513.7],xr:[181.8,298.9],xlab:true},
  {pts:rotShannon.concat(rotShannonMore),fit:rotShannonFit,ticks:rotShannonTicks,fmt:"d",box:[366.8,494,1321,1547.7],yr:[1341.7,1503.7],xr:[366.8,484],xlab:true,labDy:[-1,1,0,5],labDx:-2},
  {pts:rotPielou.concat(rotPielouMore),fit:rotPielouFit,ticks:rotPielouTicks,fmt:".1f",box:[569.3,696,1320.3,1547],yr:[1379,1506.7],xr:[569.3,686.4],xlab:true,labDx:4},
  {pts:maiChao1.concat(maiChao1More),fit:maiChao1Fit,ticks:maiChao1Ticks,fmt:"d",box:[843.3,967.9,1321,1548.3],yr:[1362,1540.7],xr:[845.8,960.3],xlab:true,labDx:-2},
  {pts:maiShannon.concat(maiShannonMore),fit:maiShannonFit,ticks:maiShannonTicks,fmt:"d",box:[1022.9,1147,1321,1548.3],yr:[1332.7,1522.7],xr:[1025.3,1140.3],xlab:true,labDx:-2},
  {pts:maiPielou.concat(maiPielouMore),fit:maiPielouFit,ticks:maiPielouTicks,fmt:".1f",box:[1218.6,1343.5,1321,1548.3],yr:[1396,1480.7],xr:[1220.6,1335.9],xlab:true,labDx:-9}
];

var svg = d3.select("#chart");
svg.append("rect").attr("width", 1350).attr("height", 1623).attr("fill", "#fff");

// ---- map
var mapBox = { left: 116.8, right: 957, top: 15, bottom: 419.3 };
var lonScale = d3.scaleLinear().domain([-120, 120]).range([256, 817.2]);
var latScale = d3.scaleLinear().domain([50, -50]).range([92.7, 326.7]);
var mapG = svg.append("g");

mapG.selectAll(".gx").data(lonTicks).enter().append("line")
  .attr("x1", (d) => lonScale(d)).attr("x2", (d) => lonScale(d))
  .attr("y1", mapBox.top).attr("y2", mapBox.bottom)
  .attr("stroke", "#ebebeb").attr("stroke-width", 4);
mapG.selectAll(".gy").data(latTicks).enter().append("line")
  .attr("x1", mapBox.left).attr("x2", mapBox.right)
  .attr("y1", (d) => latScale(d)).attr("y2", (d) => latScale(d))
  .attr("stroke", "#ebebeb").attr("stroke-width", 4);

var outline = d3.line().curve(d3.curveCatmullRomClosed.alpha(0.5))
  .x((d) => lonScale(d[0])).y((d) => latScale(d[1]));
mapG.append("clipPath").attr("id", "mapclip").append("rect")
  .attr("x", mapBox.left).attr("y", mapBox.top)
  .attr("width", mapBox.right - mapBox.left).attr("height", mapBox.bottom - mapBox.top);
var landG = mapG.append("g").attr("clip-path", "url(#mapclip)");
landG.selectAll(".land").data(land).enter().append("path")
  .attr("d", (d) => outline(d)).attr("fill", "#999999");
landG.selectAll(".water").data(water).enter().append("path")
  .attr("d", (d) => outline(d)).attr("fill", "#fff");

mapG.append("rect")
  .attr("x", mapBox.left).attr("y", mapBox.top)
  .attr("width", mapBox.right - mapBox.left).attr("height", mapBox.bottom - mapBox.top)
  .attr("fill", "none").attr("stroke", "#333").attr("stroke-width", 2.2);

var lonAxis = d3.axisBottom(lonScale).tickValues(lonTicks).tickSize(6).tickPadding(14)
  .tickFormat((d, i) => lonLabels[i]);
var lonG = mapG.append("g").attr("transform", `translate(0,${mapBox.bottom})`).call(lonAxis);
var latAxis = d3.axisLeft(latScale).tickValues(latTicks).tickSize(11).tickPadding(10)
  .tickFormat((d, i) => latLabels[i]);
var latG = mapG.append("g").attr("transform", `translate(${mapBox.left},0)`).call(latAxis);
[lonG, latG].forEach(function (g) {
  g.select(".domain").remove();
  g.selectAll("line").attr("stroke", "#333").attr("stroke-width", 2.5);
  g.selectAll("text").attr("fill", "#4d4d4d").style("font-size", "33px");
});
var lonLabelDx = [2,3,8,5,-1];
lonG.selectAll("text").attr("dx", (d, i) => lonLabelDx[i]);

mapG.selectAll(".site").data(sites).enter().append("path")
  .attr("d", d3.symbol().type(d3.symbolSquare).size(125))
  .attr("transform", (d) => `translate(${lonScale(d[1])},${latScale(d[2])}) rotate(45)`)
  .attr("fill", (d) => d[3]).attr("stroke", "#111").attr("stroke-width", 1.6);

// site labels on the map, x is left edge, y is baseline
var siteLabelPos = { FRAM:[484,53], ECL4:[443,100], BBMO:[527,143], BBNS:[367,137], SPOT:[171,147], YON:[885,249], ROT:[741,312], MAI:[878,344] };
mapG.selectAll(".sitelab").data(sites).enter().append("text")
  .attr("x", (d) => siteLabelPos[d[0]][0]).attr("y", (d) => siteLabelPos[d[0]][1])
  .attr("fill", "#111").style("font-size", "29.5px").style("font-weight", "bold")
  .text((d) => d[0]);

// ---- legend
var legendG = svg.append("g");
legendG.append("text").attr("x", 988).attr("y", 143)
  .style("font-size", "33px").style("font-weight", "bold").attr("fill", "#111").text("Month");
var legendCx = [996.7,996.7,996.7,996.7,996.7,996.7,1161.7,1161.7,1161.7,1161.7,1161.7,1161.7];
var legendCy = [173.3,216.7,258.7,298.3,342,386,174,217.7,260,299,342.7,386.7];
var legendTx = [1017,1017,1019,1020,1021,1019,1192,1186.7,1186.7,1184.3,1185,1185];
var legendTy = [182,224,267,307.7,352,394.3,182.7,225,266.7,307.7,353.3,397];
months.forEach(function (m, i) {
  legendG.append("circle").attr("cx", legendCx[i]).attr("cy", legendCy[i]).attr("r", 10.7).attr("fill", monthColors[i]);
  legendG.append("text").attr("x", legendTx[i]).attr("y", legendTy[i])
    .style("font-size", "29px").attr("fill", "#111").text(m);
});

// ---- facet strips
var strips = [
  ["Chao1",180.5,312,493,528,521.5],["Shannon",362.7,496.8,493,525.7,518],["Pielou",566,697,493,525.7,520],
  ["Chao1",843,970.7,491.7,526,520.7],["Shannon",1032,1163,491,526,519.3],["Pielou",1222,1350,492,526,519.3]
];
strips.forEach(function (s) {
  svg.append("rect").attr("x", s[1]).attr("y", s[3]).attr("width", s[2] - s[1]).attr("height", s[4] - s[3])
    .attr("fill", "#a6a6a6").attr("stroke", "#1e3a4a").attr("stroke-width", 2);
  svg.append("text").attr("x", (s[1] + s[2]) / 2).attr("y", s[5]).attr("text-anchor", "middle")
    .style("font-size", "31px").attr("fill", "#222").text(s[0]);
});

// ---- panels
panels.forEach(function (p) {
  var g = svg.append("g");
  var x = d3.scaleLinear().domain([0, 50]).range(p.xr);
  var y = d3.scaleLinear().domain([p.ticks[0], p.ticks[p.ticks.length - 1]]).range(p.yr);

  g.append("rect").attr("x", p.box[0]).attr("y", p.box[2])
    .attr("width", p.box[1] - p.box[0]).attr("height", p.box[3] - p.box[2]).attr("fill", "#fff");

  g.selectAll("circle").data(p.pts).enter().append("circle")
    .attr("cx", (d) => x(d[0])).attr("cy", (d) => y(d[1])).attr("r", 3)
    .attr("fill", (d) => monthColors[d3.bisectRight(monthEdges, d[0])]);

  var band = d3.area().curve(d3.curveCatmullRom)
    .x((d) => x(d[0])).y0((d) => y(d[1] - d[2])).y1((d) => y(d[1] + d[2]));
  g.append("path").attr("d", band(p.fit)).attr("fill", "#999").attr("fill-opacity", 0.4);

  var smooth = d3.line().curve(d3.curveCatmullRom).x((d) => x(d[0])).y((d) => y(d[1]));
  g.append("path").attr("d", smooth(p.fit)).attr("fill", "none").attr("stroke", "#1111ee").attr("stroke-width", 2.4);

  g.append("rect").attr("x", p.box[0]).attr("y", p.box[2])
    .attr("width", p.box[1] - p.box[0]).attr("height", p.box[3] - p.box[2])
    .attr("fill", "none").attr("stroke", "#1a1a1a").attr("stroke-width", 2);

  var yAxis = d3.axisLeft(y).tickValues(p.ticks).tickSize(5).tickPadding(6).tickFormat(d3.format(p.fmt));
  var yG = g.append("g").attr("transform", `translate(${p.box[0]},0)`).call(yAxis);
  var xAxis = d3.axisBottom(x).tickValues(weekTicks).tickSize(6).tickPadding(4)
    .tickFormat(p.xlab ? d3.format("d") : "");
  var xG = g.append("g").attr("transform", `translate(0,${p.box[3]})`).call(xAxis);
  [yG, xG].forEach(function (a) {
    a.select(".domain").remove();
    a.selectAll("line").attr("stroke", "#222").attr("stroke-width", 1.6);
    a.selectAll("text").attr("fill", "#111");
  });
  yG.selectAll("text").style("font-size", "30.5px");
  xG.selectAll("text").style("font-size", "30px");
  if (p.labDy) yG.selectAll("text").attr("transform", (d, i) => `translate(0,${p.labDy[i]})`);
  if (p.labDx) xG.selectAll("text").attr("transform", `translate(${p.labDx},0)`);
});

// ---- row labels and axis titles
var rowLabels = [["FRAM",82,508],["ECL4",753,519],["BBNS",80,787],["BBMO",729,784],["SPOT",82,1048],["YON",746,1048],["ROT",98,1316],["MAI",751,1323]];
rowLabels.forEach(function (r) {
  svg.append("text").attr("x", r[1]).attr("y", r[2]).attr("fill", "#111")
    .style("font-size", "31px").style("font-weight", "bold").text(r[0]);
});
[["Week number",336,1616],["Week number",996,1616]].forEach(function (r) {
  svg.append("text").attr("x", r[1]).attr("y", r[2]).attr("fill", "#111")
    .style("font-size", "33px").style("font-weight", "bold")
    .attr("textLength", 222).attr("lengthAdjust", "spacingAndGlyphs").text(r[0]);
});
svg.append("text").attr("transform", "translate(47,1289) rotate(-90)")
  .attr("fill", "#111").style("font-size", "42px").style("font-weight", "bold")
  .attr("textLength", 497).attr("lengthAdjust", "spacingAndGlyphs")
  .text("Alpha Diversity Measure");
</script>
</body>
</html>
